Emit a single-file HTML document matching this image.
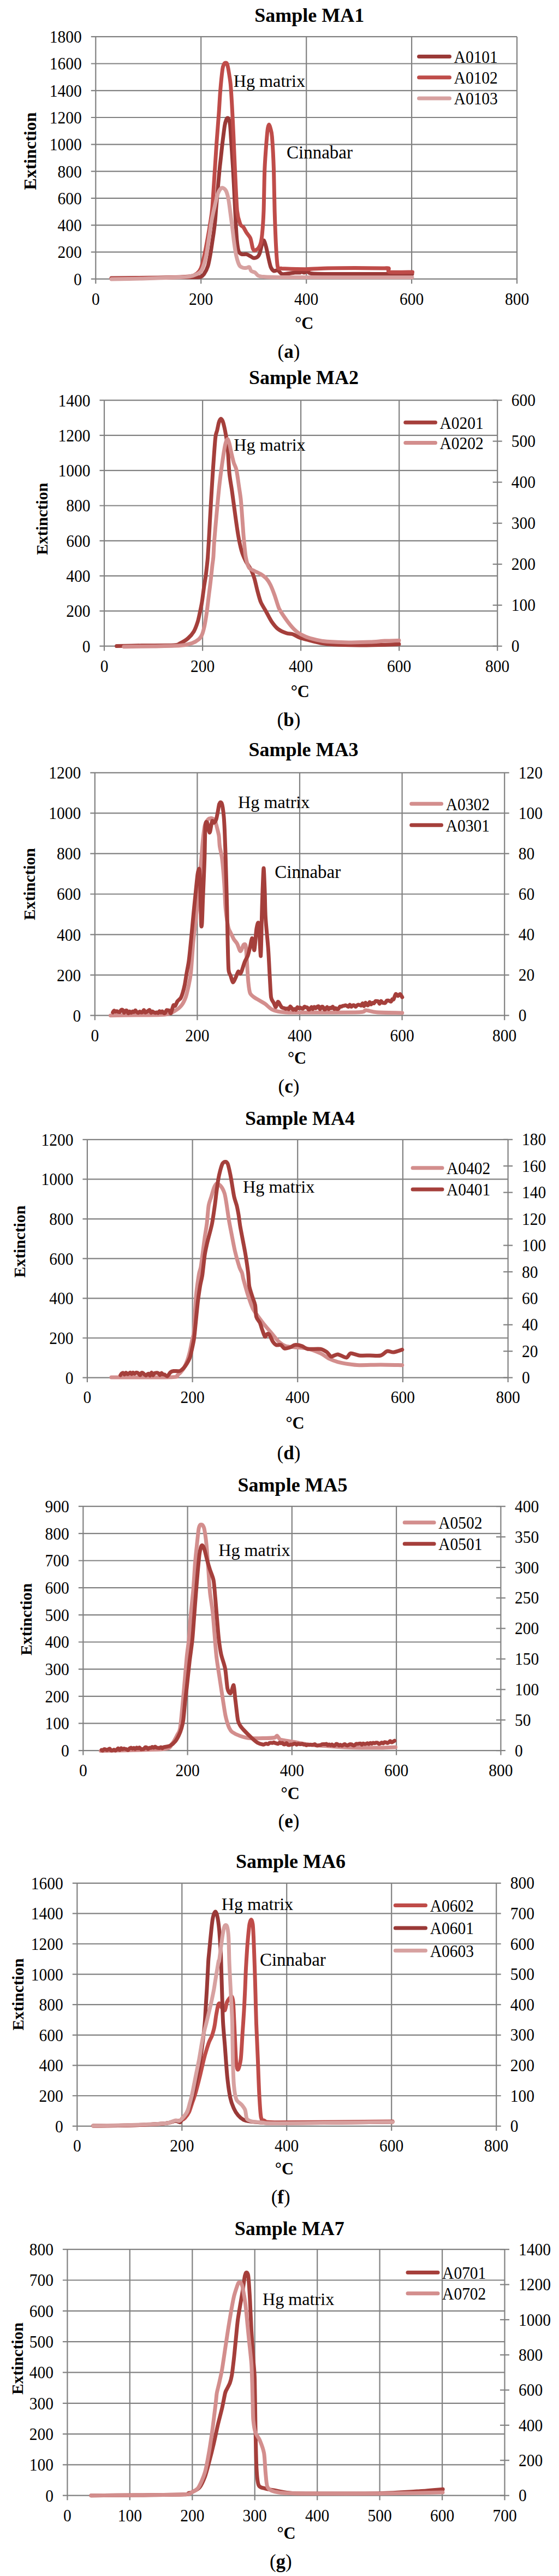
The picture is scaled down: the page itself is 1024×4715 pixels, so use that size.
<!DOCTYPE html>
<html><head><meta charset="utf-8"><style>
html,body{margin:0;padding:0;background:#fff;}
svg{display:block;}
text{font-family:"Liberation Serif",serif;fill:#000;}
</style></head><body>
<svg width="1024" height="4715" viewBox="0 0 1024 4715">
<rect width="1024" height="4715" fill="#fff"/>
<g stroke="#818181" stroke-width="2.2">
<line x1="166.8" y1="510.7" x2="947" y2="510.7"/>
<line x1="166.8" y1="461.4" x2="947" y2="461.4"/>
<line x1="166.8" y1="412.1" x2="947" y2="412.1"/>
<line x1="166.8" y1="362.9" x2="947" y2="362.9"/>
<line x1="166.8" y1="313.6" x2="947" y2="313.6"/>
<line x1="166.8" y1="264.3" x2="947" y2="264.3"/>
<line x1="166.8" y1="215" x2="947" y2="215"/>
<line x1="166.8" y1="165.8" x2="947" y2="165.8"/>
<line x1="166.8" y1="116.5" x2="947" y2="116.5"/>
<line x1="166.8" y1="67.2" x2="947" y2="67.2"/>
<line x1="175.3" y1="67.2" x2="175.3" y2="519.2"/>
<line x1="368.2" y1="67.2" x2="368.2" y2="519.2"/>
<line x1="561.2" y1="67.2" x2="561.2" y2="519.2"/>
<line x1="754.1" y1="67.2" x2="754.1" y2="519.2"/>
<line x1="947" y1="67.2" x2="947" y2="519.2"/>
<line x1="182.5" y1="1182.7" x2="911.2" y2="1182.7"/>
<line x1="182.5" y1="1118.4" x2="911.2" y2="1118.4"/>
<line x1="182.5" y1="1054.1" x2="911.2" y2="1054.1"/>
<line x1="182.5" y1="989.8" x2="911.2" y2="989.8"/>
<line x1="182.5" y1="925.5" x2="911.2" y2="925.5"/>
<line x1="182.5" y1="861.2" x2="911.2" y2="861.2"/>
<line x1="182.5" y1="796.9" x2="911.2" y2="796.9"/>
<line x1="182.5" y1="732.6" x2="911.2" y2="732.6"/>
<line x1="191" y1="732.6" x2="191" y2="1191.2"/>
<line x1="371.1" y1="732.6" x2="371.1" y2="1191.2"/>
<line x1="551.1" y1="732.6" x2="551.1" y2="1191.2"/>
<line x1="731.2" y1="732.6" x2="731.2" y2="1191.2"/>
<line x1="911.2" y1="732.6" x2="911.2" y2="1191.2"/>
<line x1="902.7" y1="1182.7" x2="919.7" y2="1182.7"/>
<line x1="902.7" y1="1107.7" x2="919.7" y2="1107.7"/>
<line x1="902.7" y1="1032.7" x2="919.7" y2="1032.7"/>
<line x1="902.7" y1="957.7" x2="919.7" y2="957.7"/>
<line x1="902.7" y1="882.6" x2="919.7" y2="882.6"/>
<line x1="902.7" y1="807.6" x2="919.7" y2="807.6"/>
<line x1="902.7" y1="732.6" x2="919.7" y2="732.6"/>
<line x1="165.3" y1="1858.7" x2="932.7" y2="1858.7"/>
<line x1="165.3" y1="1784.6" x2="932.7" y2="1784.6"/>
<line x1="165.3" y1="1710.6" x2="932.7" y2="1710.6"/>
<line x1="165.3" y1="1636.5" x2="932.7" y2="1636.5"/>
<line x1="165.3" y1="1562.4" x2="932.7" y2="1562.4"/>
<line x1="165.3" y1="1488.4" x2="932.7" y2="1488.4"/>
<line x1="165.3" y1="1414.3" x2="932.7" y2="1414.3"/>
<line x1="173.8" y1="1414.3" x2="173.8" y2="1867.2"/>
<line x1="361.4" y1="1414.3" x2="361.4" y2="1867.2"/>
<line x1="549" y1="1414.3" x2="549" y2="1867.2"/>
<line x1="736.6" y1="1414.3" x2="736.6" y2="1867.2"/>
<line x1="924.2" y1="1414.3" x2="924.2" y2="1867.2"/>
<line x1="151.4" y1="2521.6" x2="930.6" y2="2521.6"/>
<line x1="151.4" y1="2449" x2="930.6" y2="2449"/>
<line x1="151.4" y1="2376.3" x2="930.6" y2="2376.3"/>
<line x1="151.4" y1="2303.7" x2="930.6" y2="2303.7"/>
<line x1="151.4" y1="2231.1" x2="930.6" y2="2231.1"/>
<line x1="151.4" y1="2158.4" x2="930.6" y2="2158.4"/>
<line x1="151.4" y1="2085.8" x2="930.6" y2="2085.8"/>
<line x1="159.9" y1="2085.8" x2="159.9" y2="2530.1"/>
<line x1="352.6" y1="2085.8" x2="352.6" y2="2530.1"/>
<line x1="545.2" y1="2085.8" x2="545.2" y2="2530.1"/>
<line x1="737.9" y1="2085.8" x2="737.9" y2="2530.1"/>
<line x1="930.6" y1="2085.8" x2="930.6" y2="2530.1"/>
<line x1="922.1" y1="2521.6" x2="939.1" y2="2521.6"/>
<line x1="922.1" y1="2473.2" x2="939.1" y2="2473.2"/>
<line x1="922.1" y1="2424.8" x2="939.1" y2="2424.8"/>
<line x1="922.1" y1="2376.3" x2="939.1" y2="2376.3"/>
<line x1="922.1" y1="2327.9" x2="939.1" y2="2327.9"/>
<line x1="922.1" y1="2279.5" x2="939.1" y2="2279.5"/>
<line x1="922.1" y1="2231.1" x2="939.1" y2="2231.1"/>
<line x1="922.1" y1="2182.6" x2="939.1" y2="2182.6"/>
<line x1="922.1" y1="2134.2" x2="939.1" y2="2134.2"/>
<line x1="922.1" y1="2085.8" x2="939.1" y2="2085.8"/>
<line x1="143.8" y1="3204.1" x2="917.4" y2="3204.1"/>
<line x1="143.8" y1="3154.4" x2="917.4" y2="3154.4"/>
<line x1="143.8" y1="3104.8" x2="917.4" y2="3104.8"/>
<line x1="143.8" y1="3055.1" x2="917.4" y2="3055.1"/>
<line x1="143.8" y1="3005.5" x2="917.4" y2="3005.5"/>
<line x1="143.8" y1="2955.8" x2="917.4" y2="2955.8"/>
<line x1="143.8" y1="2906.2" x2="917.4" y2="2906.2"/>
<line x1="143.8" y1="2856.5" x2="917.4" y2="2856.5"/>
<line x1="143.8" y1="2806.9" x2="917.4" y2="2806.9"/>
<line x1="143.8" y1="2757.2" x2="917.4" y2="2757.2"/>
<line x1="152.3" y1="2757.2" x2="152.3" y2="3212.6"/>
<line x1="343.6" y1="2757.2" x2="343.6" y2="3212.6"/>
<line x1="534.8" y1="2757.2" x2="534.8" y2="3212.6"/>
<line x1="726.1" y1="2757.2" x2="726.1" y2="3212.6"/>
<line x1="917.4" y1="2757.2" x2="917.4" y2="3212.6"/>
<line x1="908.9" y1="3204.1" x2="925.9" y2="3204.1"/>
<line x1="908.9" y1="3148.2" x2="925.9" y2="3148.2"/>
<line x1="908.9" y1="3092.4" x2="925.9" y2="3092.4"/>
<line x1="908.9" y1="3036.5" x2="925.9" y2="3036.5"/>
<line x1="908.9" y1="2980.6" x2="925.9" y2="2980.6"/>
<line x1="908.9" y1="2924.8" x2="925.9" y2="2924.8"/>
<line x1="908.9" y1="2868.9" x2="925.9" y2="2868.9"/>
<line x1="908.9" y1="2813.1" x2="925.9" y2="2813.1"/>
<line x1="908.9" y1="2757.2" x2="925.9" y2="2757.2"/>
<line x1="132.8" y1="3891.6" x2="917.7" y2="3891.6"/>
<line x1="132.8" y1="3836" x2="917.7" y2="3836"/>
<line x1="132.8" y1="3780.4" x2="917.7" y2="3780.4"/>
<line x1="132.8" y1="3724.8" x2="917.7" y2="3724.8"/>
<line x1="132.8" y1="3669.2" x2="917.7" y2="3669.2"/>
<line x1="132.8" y1="3613.6" x2="917.7" y2="3613.6"/>
<line x1="132.8" y1="3558" x2="917.7" y2="3558"/>
<line x1="132.8" y1="3502.4" x2="917.7" y2="3502.4"/>
<line x1="132.8" y1="3446.8" x2="917.7" y2="3446.8"/>
<line x1="141.3" y1="3446.8" x2="141.3" y2="3900.1"/>
<line x1="333.3" y1="3446.8" x2="333.3" y2="3900.1"/>
<line x1="525.2" y1="3446.8" x2="525.2" y2="3900.1"/>
<line x1="717.2" y1="3446.8" x2="717.2" y2="3900.1"/>
<line x1="909.2" y1="3446.8" x2="909.2" y2="3900.1"/>
<line x1="114.9" y1="4567.7" x2="924.5" y2="4567.7"/>
<line x1="114.9" y1="4511.4" x2="924.5" y2="4511.4"/>
<line x1="114.9" y1="4455.1" x2="924.5" y2="4455.1"/>
<line x1="114.9" y1="4398.8" x2="924.5" y2="4398.8"/>
<line x1="114.9" y1="4342.4" x2="924.5" y2="4342.4"/>
<line x1="114.9" y1="4286.1" x2="924.5" y2="4286.1"/>
<line x1="114.9" y1="4229.8" x2="924.5" y2="4229.8"/>
<line x1="114.9" y1="4173.5" x2="924.5" y2="4173.5"/>
<line x1="114.9" y1="4117.2" x2="924.5" y2="4117.2"/>
<line x1="123.4" y1="4117.2" x2="123.4" y2="4576.2"/>
<line x1="237.8" y1="4117.2" x2="237.8" y2="4576.2"/>
<line x1="352.3" y1="4117.2" x2="352.3" y2="4576.2"/>
<line x1="466.7" y1="4117.2" x2="466.7" y2="4576.2"/>
<line x1="581.2" y1="4117.2" x2="581.2" y2="4576.2"/>
<line x1="695.6" y1="4117.2" x2="695.6" y2="4576.2"/>
<line x1="810.1" y1="4117.2" x2="810.1" y2="4576.2"/>
<line x1="924.5" y1="4117.2" x2="924.5" y2="4576.2"/>
<line x1="916" y1="4567.7" x2="933" y2="4567.7"/>
<line x1="916" y1="4503.3" x2="933" y2="4503.3"/>
<line x1="916" y1="4439" x2="933" y2="4439"/>
<line x1="916" y1="4374.6" x2="933" y2="4374.6"/>
<line x1="916" y1="4310.3" x2="933" y2="4310.3"/>
<line x1="916" y1="4245.9" x2="933" y2="4245.9"/>
<line x1="916" y1="4181.6" x2="933" y2="4181.6"/>
<line x1="916" y1="4117.2" x2="933" y2="4117.2"/>
</g>
<text transform="translate(149.8 521.6) scale(1 1.07)" font-size="29.5" text-anchor="end">0</text>
<text transform="translate(149.8 472.3) scale(1 1.07)" font-size="29.5" text-anchor="end">200</text>
<text transform="translate(149.8 423) scale(1 1.07)" font-size="29.5" text-anchor="end">400</text>
<text transform="translate(149.8 373.8) scale(1 1.07)" font-size="29.5" text-anchor="end">600</text>
<text transform="translate(149.8 324.5) scale(1 1.07)" font-size="29.5" text-anchor="end">800</text>
<text transform="translate(149.8 275.2) scale(1 1.07)" font-size="29.5" text-anchor="end">1000</text>
<text transform="translate(149.8 225.9) scale(1 1.07)" font-size="29.5" text-anchor="end">1200</text>
<text transform="translate(149.8 176.7) scale(1 1.07)" font-size="29.5" text-anchor="end">1400</text>
<text transform="translate(149.8 127.4) scale(1 1.07)" font-size="29.5" text-anchor="end">1600</text>
<text transform="translate(149.8 78.1) scale(1 1.07)" font-size="29.5" text-anchor="end">1800</text>
<text transform="translate(175.3 557.5) scale(1 1.07)" font-size="29.5" text-anchor="middle">0</text>
<text transform="translate(368.2 557.5) scale(1 1.07)" font-size="29.5" text-anchor="middle">200</text>
<text transform="translate(561.2 557.5) scale(1 1.07)" font-size="29.5" text-anchor="middle">400</text>
<text transform="translate(754.1 557.5) scale(1 1.07)" font-size="29.5" text-anchor="middle">600</text>
<text transform="translate(947 557.5) scale(1 1.07)" font-size="29.5" text-anchor="middle">800</text>
<text x="566.7" y="40.3" font-size="36" text-anchor="middle" font-weight="bold">Sample MA1</text>
<text transform="translate(65.5 276.6) rotate(-90)" font-size="32" font-weight="bold" text-anchor="middle">Extinction</text>
<text x="557.3" y="602.3" font-size="30.5" text-anchor="middle" font-weight="bold">°C</text>
<text x="529" y="654.5" font-size="35" text-anchor="middle">(<tspan font-weight="bold">a</tspan>)</text>
<text x="427.7" y="158.8" font-size="32.2" text-anchor="start">Hg matrix</text>
<text x="525" y="289.9" font-size="33" text-anchor="start">Cinnabar</text>
<path d="M204 509 C210.1 508.9 237.2 508.6 250 508.5 C262.8 508.4 288 508.1 300 508 C312 507.9 331.1 507.6 340 507.5 C348.9 507.4 362 507.8 366.5 507 C371 506.2 371.8 504.2 373.7 501.6 C375.6 499 379.3 492.1 380.8 487.3 C382.3 482.5 384.2 471.9 385.3 465.9 C386.4 459.9 388.1 448.1 388.9 442.6 C389.7 437.1 390.9 429.9 391.6 424.7 C392.3 419.5 393.6 409.3 394.2 403.3 C394.8 397.3 395.3 388.4 396 380 C396.7 371.6 398.7 349.3 399.5 340 C400.3 330.7 401.5 317.3 402.2 310 C402.9 302.7 404.3 291.5 405 285 C405.7 278.5 406.7 268.3 407.6 261 C408.5 253.7 410.7 235.6 411.6 230 C412.5 224.4 413.8 220.9 414.5 219 C415.2 217.1 416.3 216 417 216 C417.7 216 418.9 217.3 419.5 219 C420.1 220.7 420.9 223.4 421.5 229 C422.1 234.6 423 250.2 423.7 261 C424.4 271.8 426.1 296.8 426.9 310 C427.7 323.2 428.8 346.7 429.5 360 C430.2 373.3 431.4 399.3 432 410 C432.6 420.7 433.3 433.3 434 440 C434.7 446.7 436.1 456.9 437.3 460.3 C438.5 463.7 441.1 464.7 443 465.4 C444.9 466.1 449.5 464.9 451.6 465.4 C453.7 465.9 457 468 458.7 468.9 C460.4 469.8 462.8 472.1 464.5 472.3 C466.2 472.5 470.1 471.5 471.6 470.3 C473.1 469.1 474.8 466.3 475.9 463.1 C477 459.9 479.2 449.1 480.2 446 C481.2 442.9 482.6 439.4 483.6 440.2 C484.6 441 486.3 447.5 487.4 451.7 C488.5 455.9 490.6 466.7 491.7 471.7 C492.8 476.7 494.7 485.7 496 488.9 C497.3 492.1 500 495.2 501.7 496 C503.4 496.8 507.1 494 508.8 494.6 C510.5 495.2 513.1 499.3 514.6 500.3 C516.1 501.3 516.6 502 520 501.8 C523.4 501.6 536 499.4 540 499 C544 498.6 548.4 499.3 550 499 C551.6 498.7 551.1 497 552 497 C552.9 497 555.6 499 557 499 C558.4 499 560.9 496.8 562.6 497 C564.3 497.2 565 499.9 570 500.5 C575 501.1 582.7 501.4 600 501.5 C617.3 501.6 679.3 501.5 700 501.5 C720.7 501.5 747.7 501.5 755 501.5" fill="none" stroke="#9a3937" stroke-width="7" stroke-linejoin="round" stroke-linecap="round"/>
<path d="M204 510 C211.5 509.9 244.5 509.3 260 509 C275.5 508.7 308 508 320 507.5 C332 507 344.5 506.4 350 505.5 C355.5 504.6 358.6 502.4 361 500.5 C363.4 498.6 366.3 495.1 368 491 C369.7 486.9 372 477.6 373.7 470 C375.4 462.4 379.3 442.1 380.8 433.7 C382.3 425.3 384.2 414 385.3 406.8 C386.4 399.6 387.8 392.9 388.9 380 C390 367.1 392.5 325.9 393.6 310 C394.7 294.1 395.8 274.7 396.8 261 C397.8 247.3 400 219.8 400.9 207.3 C401.8 194.8 402.6 177.7 403.5 167 C404.4 156.3 406.7 133.5 407.6 126.8 C408.5 120.1 409.7 118.6 410.5 117 C411.3 115.4 412.8 115 413.5 115 C414.2 115 415.4 115.4 416 117 C416.6 118.6 417.5 121.9 418.3 126.8 C419.1 131.7 421.4 144.7 422.3 153.7 C423.2 162.7 424.3 181.5 425 194 C425.7 206.5 427 232.1 427.7 247.6 C428.4 263.1 429.5 291.6 430.4 310 C431.3 328.4 433.1 372.5 434.4 385.9 C435.7 399.3 438.6 406.2 440.1 410.2 C441.6 414.2 444.4 413.8 445.9 415.9 C447.4 418 449.9 423.2 451.6 425.9 C453.3 428.6 457.2 432.2 458.7 436 C460.2 439.8 462 451.5 463 454.5 C464 457.5 464.6 458.8 465.9 458.8 C467.2 458.8 471.5 456.2 473 454.5 C474.5 452.8 476.3 449.4 477.3 446 C478.3 442.6 479.4 436.8 480.2 428.8 C481 420.8 482.4 401.7 483 385.9 C483.6 370.1 484.1 326.7 484.8 310 C485.5 293.3 487.2 271 488 261 C488.8 251 489.8 239.4 490.5 235 C491.2 230.6 492.2 228 492.9 228 C493.6 228 494.8 232.1 495.5 235 C496.2 237.9 497.5 240 498.3 250 C499.1 260 500.9 291.9 501.5 310 C502.1 328.1 502.5 366.2 503.1 385.9 C503.7 405.6 505.2 443.7 506 457.4 C506.8 471.1 507.7 484.4 508.8 488.9 C509.9 493.4 513.1 490.8 514.6 491.2 C516.1 491.6 513.9 491.6 520 491.8 C526.1 492 549.3 492.8 560 492.7 C570.7 492.6 588 491.3 600 491 C612 490.7 636.7 490.5 650 490.5 C663.3 490.5 691.7 490.9 700 491 C708.3 491.1 710.1 490.1 712 491 C713.9 491.9 708.2 497 714 497.9 C719.8 498.8 750.1 497.9 755.6 497.9" fill="none" stroke="#bf4c49" stroke-width="7" stroke-linejoin="round" stroke-linecap="round"/>
<path d="M204 511 C211.5 510.9 244.5 510.4 260 510 C275.5 509.6 308.4 508.4 320 507.9 C331.6 507.4 341.3 506.9 346.8 506.1 C352.3 505.3 358.2 502.9 361.1 501.6 C364 500.3 366.6 498.7 368.3 496.3 C370 493.9 372.4 487.9 373.7 483.8 C375 479.7 377 471.4 378.1 465.9 C379.2 460.4 380.9 448.1 381.7 442.6 C382.5 437.1 383.7 429.5 384.4 424.7 C385.1 419.9 386.3 411.6 387.1 406.8 C387.9 402 389.9 392.7 390.7 388.9 C391.5 385.1 392.2 382.4 393.3 378 C394.4 373.6 397.1 360.2 398.6 355.8 C400.1 351.4 403 346.7 404.4 345.2 C405.8 343.7 407.9 343.8 409.2 344.4 C410.5 345 413.1 347.1 414.4 350 C415.7 352.9 417.8 361 418.7 365.8 C419.6 370.6 420.6 379.4 421.5 385.9 C422.4 392.4 424.3 406.9 425.3 414.5 C426.3 422.1 427.7 435.7 428.7 443 C429.7 450.3 431.7 463.2 433 468.9 C434.3 474.6 437 483.1 438.7 486 C440.4 488.9 444.2 489.7 445.9 490.3 C447.6 490.9 450.2 490.5 451.6 490.3 C453 490.1 455.6 488.1 456.7 488.9 C457.8 489.7 458.8 494.7 460.2 496 C461.6 497.3 465.6 497.8 467.3 498.9 C469 500 470.9 503.6 473 504.6 C475.1 505.6 476.7 506.2 483 506.6 C489.3 507 483.7 507.4 520 507.5 C556.3 507.6 723.7 507.7 755 507.7" fill="none" stroke="#d7a1a0" stroke-width="7" stroke-linejoin="round" stroke-linecap="round"/>
<line x1="767.5" y1="103.4" x2="823.5" y2="103.4" stroke="#9a3937" stroke-width="7" stroke-linecap="round"/>
<text transform="translate(831.6 114.7) scale(1 1.07)" font-size="29.5" text-anchor="start">A0101</text>
<line x1="767.5" y1="141.8" x2="823.5" y2="141.8" stroke="#bf4c49" stroke-width="7" stroke-linecap="round"/>
<text transform="translate(831.6 153.1) scale(1 1.07)" font-size="29.5" text-anchor="start">A0102</text>
<line x1="767.5" y1="180.1" x2="823.5" y2="180.1" stroke="#d7a1a0" stroke-width="7" stroke-linecap="round"/>
<text transform="translate(831.6 191.4) scale(1 1.07)" font-size="29.5" text-anchor="start">A0103</text>
<text transform="translate(165.5 1193.6) scale(1 1.07)" font-size="29.5" text-anchor="end">0</text>
<text transform="translate(165.5 1129.3) scale(1 1.07)" font-size="29.5" text-anchor="end">200</text>
<text transform="translate(165.5 1065) scale(1 1.07)" font-size="29.5" text-anchor="end">400</text>
<text transform="translate(165.5 1000.7) scale(1 1.07)" font-size="29.5" text-anchor="end">600</text>
<text transform="translate(165.5 936.4) scale(1 1.07)" font-size="29.5" text-anchor="end">800</text>
<text transform="translate(165.5 872.1) scale(1 1.07)" font-size="29.5" text-anchor="end">1000</text>
<text transform="translate(165.5 807.8) scale(1 1.07)" font-size="29.5" text-anchor="end">1200</text>
<text transform="translate(165.5 743.5) scale(1 1.07)" font-size="29.5" text-anchor="end">1400</text>
<text transform="translate(191 1229.5) scale(1 1.07)" font-size="29.5" text-anchor="middle">0</text>
<text transform="translate(371.1 1229.5) scale(1 1.07)" font-size="29.5" text-anchor="middle">200</text>
<text transform="translate(551.1 1229.5) scale(1 1.07)" font-size="29.5" text-anchor="middle">400</text>
<text transform="translate(731.2 1229.5) scale(1 1.07)" font-size="29.5" text-anchor="middle">600</text>
<text transform="translate(911.2 1229.5) scale(1 1.07)" font-size="29.5" text-anchor="middle">800</text>
<text transform="translate(936.7 1193.3) scale(1 1.07)" font-size="29.5" text-anchor="start">0</text>
<text transform="translate(936.7 1118.3) scale(1 1.07)" font-size="29.5" text-anchor="start">100</text>
<text transform="translate(936.7 1043.3) scale(1 1.07)" font-size="29.5" text-anchor="start">200</text>
<text transform="translate(936.7 968.3) scale(1 1.07)" font-size="29.5" text-anchor="start">300</text>
<text transform="translate(936.7 893.2) scale(1 1.07)" font-size="29.5" text-anchor="start">400</text>
<text transform="translate(936.7 818.2) scale(1 1.07)" font-size="29.5" text-anchor="start">500</text>
<text transform="translate(936.7 743.2) scale(1 1.07)" font-size="29.5" text-anchor="start">600</text>
<text x="556.5" y="703" font-size="36" text-anchor="middle" font-weight="bold">Sample MA2</text>
<text transform="translate(86.9 949.8) rotate(-90)" font-size="29.7" font-weight="bold" text-anchor="middle">Extinction</text>
<text x="549.8" y="1275.9" font-size="30.5" text-anchor="middle" font-weight="bold">°C</text>
<text x="529" y="1329.3" font-size="35" text-anchor="middle">(<tspan font-weight="bold">b</tspan>)</text>
<text x="428.3" y="825.2" font-size="32.2" text-anchor="start">Hg matrix</text>
<path d="M213.6 1182.6 C219.8 1182.5 246.1 1181.7 260 1181.5 C273.9 1181.3 308.7 1181.5 318 1181 C327.3 1180.5 326.5 1179.2 330 1177.5 C333.5 1175.8 341 1171.4 344.3 1168.5 C347.6 1165.6 352.6 1160.1 355 1156 C357.4 1151.9 360.6 1143 362.2 1138 C363.8 1133 365.6 1123.4 366.7 1118.4 C367.8 1113.4 369.3 1106.5 370.2 1100.5 C371.1 1094.5 372.9 1079.9 373.8 1073.7 C374.7 1067.5 376.2 1059.3 376.9 1054 C377.6 1048.7 378.7 1038.8 379.2 1034.3 C379.7 1029.8 380.2 1025.9 380.6 1020 C381 1014.1 381.8 1001.9 382.5 990 C383.2 978.1 384.8 947.5 385.8 931 C386.8 914.5 388.5 883.8 389.7 866.6 C390.9 849.4 393.4 812.5 394.5 802 C395.6 791.5 396.8 791.9 397.7 788 C398.6 784.1 400.1 775.9 401 773 C401.9 770.1 403.7 766.8 404.6 766.5 C405.5 766.2 407.1 768.9 408 771 C408.9 773.1 410.2 778.6 411 782 C411.8 785.4 413 791.6 413.8 796.4 C414.6 801.2 416.1 808.9 417 818.3 C417.9 827.7 419.1 855.9 420.2 866.6 C421.3 877.3 423.5 888.1 425 898.8 C426.5 909.5 430 936.2 431.5 947 C433 957.8 435 971.9 436.4 980 C437.8 988.1 440.5 1001.2 442.3 1007.5 C444.1 1013.8 447.8 1022.5 450.2 1027.2 C452.6 1031.9 457.9 1038.8 460 1043 C462.1 1047.2 464.4 1053.5 466 1058.7 C467.6 1063.9 470.2 1076.5 471.8 1082.3 C473.4 1088.1 475.6 1097 477.7 1102 C479.8 1107 485 1115 487.6 1119.7 C490.2 1124.4 494.5 1133.2 497.4 1137.4 C500.3 1141.6 505.5 1148.3 509.2 1151.2 C512.9 1154.1 521.3 1157.7 525 1159 C528.7 1160.3 533.7 1159.9 536.8 1161 C539.9 1162.1 545 1165.6 548.6 1167 C552.2 1168.4 558.5 1169.9 563.6 1171.2 C568.7 1172.5 580.9 1175.9 587.2 1177 C593.5 1178.1 601.4 1179.3 610.8 1179.8 C620.2 1180.3 645.4 1180.9 658 1181 C670.6 1181.1 695.6 1180.5 705.3 1180.2 C715 1179.9 727.5 1179.2 730.9 1179" fill="none" stroke="#a53f3b" stroke-width="7" stroke-linejoin="round" stroke-linecap="round"/>
<path d="M226.8 1183.7 C233.9 1183.6 266.2 1183.3 280 1183 C293.8 1182.7 320.5 1182.2 330 1181.5 C339.5 1180.8 347 1178.9 351.5 1177.4 C356 1175.9 361.5 1172.4 364 1170.3 C366.5 1168.2 368.8 1164.6 370.2 1161.3 C371.6 1158 373.6 1150.2 374.7 1145.2 C375.8 1140.2 377.3 1130.5 378.3 1123.8 C379.3 1117.1 381.1 1101.8 381.9 1095.1 C382.7 1088.4 383.9 1079.2 384.6 1073.7 C385.3 1068.2 386.3 1059.3 386.9 1054 C387.5 1048.7 388.5 1038.8 389 1034.3 C389.5 1029.8 390.3 1025.9 390.8 1020 C391.3 1014.1 391.6 1001.9 392.5 990 C393.4 978.1 396.4 945.3 397.7 931 C399 916.7 401 895.6 402.5 882.7 C404 869.8 407.6 843.8 409 834.4 C410.4 825 412 816.1 413 812 C414 807.9 415.7 803.5 416.7 803.5 C417.7 803.5 419.2 808.5 420.2 812 C421.2 815.5 422.9 825.3 424 830 C425.1 834.7 427.1 843.3 428.3 847.3 C429.5 851.3 431.8 854.1 433.1 860.1 C434.4 866.1 436.9 885 438 892.3 C439.1 899.6 440.3 906.3 441.2 914.9 C442.1 923.5 443.7 947.4 444.4 956.7 C445.1 966 445.7 976.6 446.5 985 C447.3 993.4 448.9 1012.2 450.2 1019.4 C451.5 1026.6 454 1035.6 456.1 1039 C458.2 1042.4 463.1 1043.4 466 1045 C468.9 1046.6 474.8 1049 477.7 1050.8 C480.6 1052.6 485.2 1056.1 487.6 1058.7 C490 1061.3 493.3 1066.3 495.4 1070.5 C497.5 1074.7 501.2 1084.4 503.3 1090.2 C505.4 1096 508.8 1108.6 511.2 1113.8 C513.6 1119 518.1 1125.3 521 1129.5 C523.9 1133.7 529.7 1141.6 532.8 1145.3 C535.9 1149 541 1154.3 544.6 1157 C548.2 1159.7 555.1 1163.4 559.7 1165.3 C564.3 1167.2 574.2 1170 579.4 1171.2 C584.6 1172.4 591.1 1173.7 599 1174.3 C606.9 1174.9 627.9 1175.8 638.4 1175.9 C648.9 1176 668.8 1175.5 677.7 1175.1 C686.6 1174.7 698.2 1173.5 705.3 1173.1 C712.4 1172.7 727.5 1172.4 730.9 1172.3" fill="none" stroke="#d38e8d" stroke-width="7" stroke-linejoin="round" stroke-linecap="round"/>
<line x1="742.8" y1="773.2" x2="797.5" y2="773.2" stroke="#a53f3b" stroke-width="7" stroke-linecap="round"/>
<text transform="translate(805.4 784.5) scale(1 1.07)" font-size="29.5" text-anchor="start">A0201</text>
<line x1="742.8" y1="810.6" x2="797.5" y2="810.6" stroke="#d38e8d" stroke-width="7" stroke-linecap="round"/>
<text transform="translate(805.4 821.9) scale(1 1.07)" font-size="29.5" text-anchor="start">A0202</text>
<text transform="translate(148.3 1869.6) scale(1 1.07)" font-size="29.5" text-anchor="end">0</text>
<text transform="translate(148.3 1795.5) scale(1 1.07)" font-size="29.5" text-anchor="end">200</text>
<text transform="translate(148.3 1721.5) scale(1 1.07)" font-size="29.5" text-anchor="end">400</text>
<text transform="translate(148.3 1647.4) scale(1 1.07)" font-size="29.5" text-anchor="end">600</text>
<text transform="translate(148.3 1573.3) scale(1 1.07)" font-size="29.5" text-anchor="end">800</text>
<text transform="translate(148.3 1499.3) scale(1 1.07)" font-size="29.5" text-anchor="end">1000</text>
<text transform="translate(148.3 1425.2) scale(1 1.07)" font-size="29.5" text-anchor="end">1200</text>
<text transform="translate(173.8 1905.5) scale(1 1.07)" font-size="29.5" text-anchor="middle">0</text>
<text transform="translate(361.4 1905.5) scale(1 1.07)" font-size="29.5" text-anchor="middle">200</text>
<text transform="translate(549 1905.5) scale(1 1.07)" font-size="29.5" text-anchor="middle">400</text>
<text transform="translate(736.6 1905.5) scale(1 1.07)" font-size="29.5" text-anchor="middle">600</text>
<text transform="translate(924.2 1905.5) scale(1 1.07)" font-size="29.5" text-anchor="middle">800</text>
<text transform="translate(949.7 1869.3) scale(1 1.07)" font-size="29.5" text-anchor="start">0</text>
<text transform="translate(949.7 1795.2) scale(1 1.07)" font-size="29.5" text-anchor="start">20</text>
<text transform="translate(949.7 1721.2) scale(1 1.07)" font-size="29.5" text-anchor="start">40</text>
<text transform="translate(949.7 1647.1) scale(1 1.07)" font-size="29.5" text-anchor="start">60</text>
<text transform="translate(949.7 1573) scale(1 1.07)" font-size="29.5" text-anchor="start">80</text>
<text transform="translate(949.7 1499) scale(1 1.07)" font-size="29.5" text-anchor="start">100</text>
<text transform="translate(949.7 1424.9) scale(1 1.07)" font-size="29.5" text-anchor="start">120</text>
<text x="556" y="1384" font-size="36" text-anchor="middle" font-weight="bold">Sample MA3</text>
<text transform="translate(64.4 1618.2) rotate(-90)" font-size="29.7" font-weight="bold" text-anchor="middle">Extinction</text>
<text x="544" y="1946.9" font-size="30.5" text-anchor="middle" font-weight="bold">°C</text>
<text x="529" y="2000" font-size="35" text-anchor="middle">(<tspan font-weight="bold">c</tspan>)</text>
<text x="436" y="1478.8" font-size="32.2" text-anchor="start">Hg matrix</text>
<text x="503.3" y="1607.2" font-size="33" text-anchor="start">Cinnabar</text>
<path d="M202.4 1858.7 C208.7 1858.6 236.6 1858.2 250 1858 C263.4 1857.8 293.2 1858.1 302.7 1857 C312.2 1855.9 317.5 1851.8 321.5 1849.5 C325.5 1847.2 330.2 1843.3 332.7 1840 C335.2 1836.7 338.5 1830 340.3 1825 C342.1 1820 344.6 1808.5 345.9 1802.5 C347.2 1796.5 348.6 1790 349.7 1780 C350.8 1770 352.6 1740.5 353.8 1727.2 C355 1713.9 357.6 1692 358.9 1680 C360.2 1668 362.3 1650.9 363.6 1637.4 C364.9 1623.9 367.2 1591.5 368.3 1578.4 C369.4 1565.3 370.6 1548.1 371.5 1539 C372.4 1529.9 374.1 1515.2 375.4 1510 C376.7 1504.8 379.5 1501.7 381 1500 C382.5 1498.3 385.5 1497.6 386.8 1497.5 C388.1 1497.4 390 1498.4 391 1499 C392 1499.6 393 1499.5 394 1502 C395 1504.5 397.4 1514.3 398.3 1518 C399.2 1521.7 400.4 1525.9 401 1530 C401.6 1534.1 401.7 1543.3 402.5 1549 C403.3 1554.7 405.8 1563.3 406.9 1572.5 C408 1581.7 410 1606 410.8 1617.7 C411.6 1629.4 412.3 1651 413 1660 C413.7 1669 415.2 1679.7 416 1685 C416.8 1690.3 418.1 1697 419 1700 C419.9 1703 421.3 1704.9 422.6 1707.5 C423.9 1710.1 426.9 1716.8 428.5 1719.4 C430.1 1722 432.8 1724.3 434.4 1727.2 C436 1730.1 438.8 1740.7 440.4 1741 C442 1741.3 445 1730.5 446.3 1729.2 C447.6 1727.9 449.4 1727.3 450.2 1731.2 C451 1735.1 451.6 1749.8 452.2 1758.7 C452.8 1767.6 454.1 1790.1 454.9 1798 C455.7 1805.9 456.6 1814 458.1 1817.7 C459.6 1821.4 463.5 1823.8 465.9 1825.6 C468.3 1827.4 473.2 1829.9 475.8 1831.5 C478.4 1833.1 482.7 1835.3 485.6 1837.4 C488.5 1839.5 494.3 1845.5 497.4 1847.3 C500.5 1849.1 505 1850.4 509.2 1851.2 C513.4 1852 522.1 1852.9 528.9 1853.2 C535.7 1853.5 542.8 1853.3 560 1853.2 C577.2 1853.1 643.3 1853.4 658 1852.8 C672.7 1852.2 665.7 1848.9 669.9 1848.9 C674.1 1848.9 680.6 1852.1 689.5 1852.8 C698.4 1853.5 730.5 1853.8 736.8 1854" fill="none" stroke="#d38e8d" stroke-width="7" stroke-linejoin="round" stroke-linecap="round"/>
<path d="M206.7 1853 C207 1852.6 208.3 1850 209 1849.8 C209.7 1849.7 210.9 1851.7 211.6 1851.8 C212.3 1851.9 213.5 1850.6 214.2 1850.7 C214.9 1850.7 216.1 1851.9 216.8 1852.2 C217.5 1852.4 218.7 1852.8 219.4 1852.3 C220.1 1851.8 221.3 1849.2 222 1848.7 C222.7 1848.2 223.9 1847.7 224.6 1848.4 C225.3 1849 226.5 1853.4 227.2 1853.7 C227.9 1853.9 229.1 1850.5 229.8 1850 C230.5 1849.4 231.7 1849.2 232.4 1849.8 C233.1 1850.4 234.3 1854.5 235 1854.7 C235.7 1854.9 236.9 1851.4 237.6 1851.3 C238.3 1851.2 239.5 1853.6 240.2 1853.7 C240.9 1853.7 242.1 1851.5 242.8 1851.3 C243.5 1851.2 244.7 1852.7 245.4 1852.4 C246.1 1852.1 247.3 1849.3 248 1849.3 C248.7 1849.3 249.9 1851.8 250.6 1852.4 C251.3 1853 252.5 1854 253.2 1853.9 C253.9 1853.8 255.1 1851.8 255.8 1851.6 C256.5 1851.5 257.7 1852.9 258.4 1853 C259.1 1853.2 260.3 1853.2 261 1852.6 C261.7 1852 262.9 1848.6 263.6 1848.7 C264.3 1848.8 265.5 1852.7 266.2 1853.2 C266.9 1853.6 268.1 1852.5 268.8 1852.1 C269.5 1851.7 270.7 1850.7 271.4 1850.2 C272.1 1849.8 273.3 1848 274 1848.5 C274.7 1849 275.9 1853.5 276.6 1853.8 C277.3 1854.2 278.5 1851.5 279.2 1851.3 C279.9 1851.2 281.1 1852.6 281.8 1852.9 C282.5 1853.2 283.7 1853.9 284.4 1853.9 C285.1 1853.9 286.3 1852.8 287 1852.9 C287.7 1852.9 288.9 1854.5 289.6 1854.2 C290.3 1853.9 291.5 1850.9 292.2 1850.8 C292.9 1850.7 294.1 1853.4 294.8 1853.4 C295.5 1853.5 296.7 1851 297.4 1851.1 C298.1 1851.3 299.3 1853.9 300 1854.3 C300.7 1854.7 301.9 1854.6 302.6 1853.9 C303.3 1853.2 304.5 1849.6 305.2 1848.9 C305.9 1848.3 307.1 1849.1 307.8 1849.2 C308.5 1849.3 309.7 1849 310.4 1849.7 C311.1 1850.4 312 1855.8 313 1854.5 C314 1853.2 316.6 1841.9 317.7 1840.1 C318.8 1838.3 320 1842 321 1841 C322 1840 323.9 1834.5 325.2 1832.6 C326.5 1830.7 329.6 1829 330.9 1827 C332.2 1825 333.6 1820.9 334.6 1817.6 C335.6 1814.3 337.4 1807.5 338.4 1802.5 C339.4 1797.5 341.1 1785.8 342.1 1780 C343.1 1774.2 344.8 1766.7 345.9 1758.7 C347 1750.7 348.9 1731.2 350 1720 C351.1 1708.8 353.2 1686.3 354.3 1674.5 C355.4 1662.7 357.6 1641.5 358.6 1631.6 C359.6 1621.7 361.2 1605.5 362 1600 C362.8 1594.5 364 1590 364.5 1590 C365 1590 365.6 1592 366 1600 C366.4 1608 367.2 1637.6 367.5 1650 C367.8 1662.4 368.3 1687.7 368.6 1693 C368.9 1698.3 369.6 1695.7 370 1690 C370.4 1684.3 371.1 1660.7 371.5 1650 C371.9 1639.3 372.8 1620.7 373.2 1610 C373.6 1599.3 374.4 1583.1 374.8 1570 C375.2 1556.9 375.6 1520.1 376.2 1511.5 C376.8 1502.9 378.3 1503.9 379.4 1505.6 C380.5 1507.3 382.9 1524.3 384.1 1524 C385.3 1523.7 387.4 1505.4 388.5 1503 C389.6 1500.6 391 1506.4 392 1506 C393 1505.6 395.1 1502.7 396 1500 C396.9 1497.3 398.3 1489.7 399 1486 C399.7 1482.3 400.9 1474.3 401.5 1472 C402.1 1469.7 403.2 1468.8 403.8 1468.5 C404.4 1468.2 405.4 1468.7 406 1470 C406.6 1471.3 407.5 1474.7 408 1478 C408.5 1481.3 409.5 1489.4 410 1495 C410.5 1500.6 411.1 1511.3 411.5 1520 C411.9 1528.7 412.4 1541.3 413 1560 C413.6 1578.7 415.3 1638.7 415.8 1660 C416.3 1681.3 416.6 1704.7 417 1720 C417.4 1735.3 418 1765.7 418.7 1774.5 C419.4 1783.3 421.5 1783.2 422.6 1786.3 C423.7 1789.4 425.4 1797.5 426.6 1798 C427.8 1798.5 430 1792.8 431.3 1790.2 C432.6 1787.6 435.2 1779.5 436.4 1778.4 C437.6 1777.3 439.5 1782.6 440.4 1782.3 C441.3 1782 442.1 1779.3 443.1 1776.4 C444.1 1773.5 446.7 1764.4 448.2 1760.7 C449.7 1757 452.8 1752.6 454.1 1748.9 C455.4 1745.2 457 1737.3 458.1 1733.1 C459.2 1728.9 461 1716.6 462 1717.4 C463 1718.2 464.8 1741.4 465.9 1739 C467 1736.6 468.8 1706.1 469.9 1699.7 C471 1693.3 473 1684.3 474 1691 C475 1697.7 477 1751.5 477.7 1750 C478.4 1748.5 479.1 1696 479.5 1680 C479.9 1664 480.5 1642.1 481 1630 C481.5 1617.9 482.5 1589 483 1589 C483.5 1589 484.5 1617.9 485 1630 C485.5 1642.1 485.6 1665.5 486.5 1680 C487.4 1694.5 490.5 1724.3 491.5 1739 C492.5 1753.7 493.6 1778.7 494.3 1790.2 C495 1801.7 495.7 1819.6 496.6 1825.6 C497.5 1831.6 500.2 1833.1 501.4 1835.5 C502.6 1837.9 504.3 1843.6 505.3 1843.3 C506.3 1843 508.1 1834 509.2 1833.5 C510.3 1833 512.3 1838 513.2 1839.4 C514.1 1840.8 515.3 1843 516 1843.7 C516.7 1844.5 517.9 1844.6 518.6 1844.8 C519.3 1845 520.5 1845.2 521.2 1845.4 C521.9 1845.7 523.1 1846.6 523.8 1846.6 C524.5 1846.7 525.7 1845.7 526.4 1845.7 C527.1 1845.8 528.3 1847.6 529 1847.2 C529.7 1846.7 530.9 1842.4 531.6 1842.1 C532.3 1841.8 533.5 1844.3 534.2 1845.1 C534.9 1845.9 536.1 1848 536.8 1848.3 C537.5 1848.5 538.7 1846.8 539.4 1846.8 C540.1 1846.8 541.3 1848.8 542 1848.4 C542.7 1847.9 543.9 1843.9 544.6 1843.6 C545.3 1843.2 546.5 1845.5 547.2 1845.6 C547.9 1845.7 549.1 1844.2 549.8 1844.2 C550.5 1844.3 551.7 1845.7 552.4 1846 C553.1 1846.2 554.3 1846.5 555 1846.1 C555.7 1845.6 556.9 1842.9 557.6 1842.6 C558.3 1842.3 559.5 1843.6 560.2 1843.8 C560.9 1844 562.1 1843.6 562.8 1844.1 C563.5 1844.6 564.7 1847.5 565.4 1847.9 C566.1 1848.2 567.3 1847.5 568 1846.9 C568.7 1846.3 569.9 1843.2 570.6 1843.2 C571.3 1843.2 572.5 1847 573.2 1847 C573.9 1846.9 575.1 1843.1 575.8 1842.9 C576.5 1842.8 577.7 1845.8 578.4 1845.7 C579.1 1845.7 580.3 1843.2 581 1842.7 C581.7 1842.2 582.9 1841.3 583.6 1841.9 C584.3 1842.5 585.5 1846.9 586.2 1847.1 C586.9 1847.2 588.1 1843.6 588.8 1843 C589.5 1842.5 590.7 1842.4 591.4 1843 C592.1 1843.6 593.3 1847 594 1847.5 C594.7 1848.1 595.9 1847.4 596.6 1846.8 C597.3 1846.2 598.5 1843.2 599.2 1843.3 C599.9 1843.3 601.1 1847 601.8 1847.2 C602.5 1847.4 603.7 1844.9 604.4 1844.6 C605.1 1844.4 606.3 1845.7 607 1845.4 C607.7 1845.1 608.9 1842.3 609.6 1842.5 C610.3 1842.7 611.5 1846.5 612.2 1846.8 C612.9 1847.2 614.1 1845.3 614.8 1845.3 C615.5 1845.3 616.7 1846.7 617.4 1846.9 C618.1 1847 619.3 1846.9 620 1846.4 C620.7 1845.8 621.9 1843 622.6 1842.5 C623.3 1842 624.5 1842.8 625.2 1842.6 C625.9 1842.5 627.1 1841.4 627.8 1841.2 C628.5 1840.9 629.7 1841 630.4 1840.8 C631.1 1840.7 632.3 1840 633 1840.1 C633.7 1840.1 634.9 1840.8 635.6 1841.2 C636.3 1841.6 637.5 1843.1 638.2 1842.7 C638.9 1842.4 640.1 1838.9 640.8 1838.9 C641.5 1838.9 642.7 1842.5 643.4 1842.7 C644.1 1842.9 645.3 1840.7 646 1840.4 C646.7 1840 647.9 1839.6 648.6 1839.9 C649.3 1840.2 650.5 1842.6 651.2 1842.7 C651.9 1842.8 653.1 1840.9 653.8 1840.4 C654.5 1839.9 655.7 1839.1 656.4 1839 C657.1 1838.9 658.3 1839.4 659 1839.7 C659.7 1839.9 660.9 1841.1 661.6 1840.6 C662.3 1840.2 663.5 1836.2 664.2 1836.4 C664.9 1836.5 666.1 1841.6 666.8 1841.5 C667.5 1841.4 668.7 1835.7 669.4 1835.4 C670.1 1835.1 671.3 1838.8 672 1839.4 C672.7 1839.9 673.9 1840.3 674.6 1839.6 C675.3 1838.9 676.5 1834.4 677.2 1834.2 C677.9 1834.1 679.1 1838.3 679.8 1838.5 C680.5 1838.6 681.7 1835.8 682.4 1835.5 C683.1 1835.3 684.3 1836.8 685 1836.4 C685.7 1836 686.9 1833.2 687.6 1832.6 C688.3 1832.1 689.5 1832.4 690.2 1832.5 C690.9 1832.5 692.1 1832.3 692.8 1832.9 C693.5 1833.5 694.7 1837.2 695.4 1837.2 C696.1 1837.1 697.3 1832.5 698 1832.2 C698.7 1832 699.9 1834.7 700.6 1835.2 C701.3 1835.7 702.5 1835.8 703.2 1835.8 C703.9 1835.9 705.1 1836.1 705.8 1835.5 C706.5 1835 707.7 1832.2 708.4 1831.6 C709.1 1831.1 710.3 1831.3 711 1831.3 C711.7 1831.4 712.9 1831.8 713.6 1832 C714.3 1832.2 715.5 1833.6 716.2 1833.2 C716.9 1832.7 718.2 1829.3 718.8 1828.8 C719.4 1828.3 720.2 1830.5 721 1829.2 C721.8 1827.9 723.9 1820.2 725 1819.4 C726.1 1818.6 728 1823 729 1823 C730 1823 731.8 1819.1 732.8 1819.4 C733.8 1819.7 736.3 1824.5 736.8 1825.3" fill="none" stroke="#a53f3b" stroke-width="7" stroke-linejoin="round" stroke-linecap="round"/>
<line x1="753.7" y1="1471.2" x2="808.5" y2="1471.2" stroke="#d38e8d" stroke-width="7" stroke-linecap="round"/>
<text transform="translate(816.7 1482.5) scale(1 1.07)" font-size="29.5" text-anchor="start">A0302</text>
<line x1="753.7" y1="1510.2" x2="808.5" y2="1510.2" stroke="#a53f3b" stroke-width="7" stroke-linecap="round"/>
<text transform="translate(816.7 1521.5) scale(1 1.07)" font-size="29.5" text-anchor="start">A0301</text>
<text transform="translate(134.4 2532.5) scale(1 1.07)" font-size="29.5" text-anchor="end">0</text>
<text transform="translate(134.4 2459.9) scale(1 1.07)" font-size="29.5" text-anchor="end">200</text>
<text transform="translate(134.4 2387.2) scale(1 1.07)" font-size="29.5" text-anchor="end">400</text>
<text transform="translate(134.4 2314.6) scale(1 1.07)" font-size="29.5" text-anchor="end">600</text>
<text transform="translate(134.4 2242) scale(1 1.07)" font-size="29.5" text-anchor="end">800</text>
<text transform="translate(134.4 2169.3) scale(1 1.07)" font-size="29.5" text-anchor="end">1000</text>
<text transform="translate(134.4 2096.7) scale(1 1.07)" font-size="29.5" text-anchor="end">1200</text>
<text transform="translate(159.9 2568.4) scale(1 1.07)" font-size="29.5" text-anchor="middle">0</text>
<text transform="translate(352.6 2568.4) scale(1 1.07)" font-size="29.5" text-anchor="middle">200</text>
<text transform="translate(545.2 2568.4) scale(1 1.07)" font-size="29.5" text-anchor="middle">400</text>
<text transform="translate(737.9 2568.4) scale(1 1.07)" font-size="29.5" text-anchor="middle">600</text>
<text transform="translate(930.6 2568.4) scale(1 1.07)" font-size="29.5" text-anchor="middle">800</text>
<text transform="translate(956.1 2532.2) scale(1 1.07)" font-size="29.5" text-anchor="start">0</text>
<text transform="translate(956.1 2483.8) scale(1 1.07)" font-size="29.5" text-anchor="start">20</text>
<text transform="translate(956.1 2435.4) scale(1 1.07)" font-size="29.5" text-anchor="start">40</text>
<text transform="translate(956.1 2386.9) scale(1 1.07)" font-size="29.5" text-anchor="start">60</text>
<text transform="translate(956.1 2338.5) scale(1 1.07)" font-size="29.5" text-anchor="start">80</text>
<text transform="translate(956.1 2290.1) scale(1 1.07)" font-size="29.5" text-anchor="start">100</text>
<text transform="translate(956.1 2241.7) scale(1 1.07)" font-size="29.5" text-anchor="start">120</text>
<text transform="translate(956.1 2193.2) scale(1 1.07)" font-size="29.5" text-anchor="start">140</text>
<text transform="translate(956.1 2144.8) scale(1 1.07)" font-size="29.5" text-anchor="start">160</text>
<text transform="translate(956.1 2096.4) scale(1 1.07)" font-size="29.5" text-anchor="start">180</text>
<text x="549.5" y="2058.6" font-size="36" text-anchor="middle" font-weight="bold">Sample MA4</text>
<text transform="translate(45.5 2272.5) rotate(-90)" font-size="29.7" font-weight="bold" text-anchor="middle">Extinction</text>
<text x="540.5" y="2614.8" font-size="30.5" text-anchor="middle" font-weight="bold">°C</text>
<text x="529" y="2671" font-size="35" text-anchor="middle">(<tspan font-weight="bold">d</tspan>)</text>
<text x="445" y="2182.9" font-size="32.2" text-anchor="start">Hg matrix</text>
<path d="M203.9 2521 C218.6 2521 297.8 2521.3 314 2520.8 C330.2 2520.3 322.5 2518.8 325.2 2517 C327.9 2515.2 332.3 2510.9 334.6 2507.6 C336.9 2504.3 340.3 2497.1 342.1 2492.6 C343.9 2488.1 346.4 2479.3 347.8 2473.8 C349.2 2468.3 351.3 2456.2 352.3 2451.3 C353.3 2446.4 354.4 2447.6 355.3 2437 C356.2 2426.4 358 2385.4 359.2 2371.5 C360.4 2357.6 363.2 2339.8 364.3 2332.9 C365.4 2326 366.8 2324.8 367.7 2320 C368.6 2315.2 369.9 2304.1 370.9 2296.7 C371.9 2289.3 374 2272.2 375.1 2264.5 C376.2 2256.8 378.1 2246.5 379 2238.8 C379.9 2231.1 381.1 2213 382.2 2206.6 C383.3 2200.2 385.7 2194.8 387 2190.5 C388.3 2186.2 390.6 2177.6 391.9 2174.4 C393.2 2171.2 395 2166.9 396.7 2166.5 C398.4 2166.1 402.8 2168.9 404.7 2171.2 C406.6 2173.5 409.9 2180.1 411.2 2184 C412.5 2187.9 413.3 2193.7 414.4 2200.1 C415.5 2206.5 417.9 2224.6 419.2 2232.3 C420.5 2240 422.6 2250.4 424.1 2258.1 C425.6 2265.8 428.6 2282.1 430.5 2290.3 C432.4 2298.5 436.8 2314 438.5 2319.3 C440.2 2324.6 442.4 2327 443.4 2330 C444.4 2333 444.4 2336 445.9 2341.5 C447.4 2347 452.2 2364.4 454.5 2371.5 C456.8 2378.6 460.8 2390.2 463.1 2395.1 C465.4 2400 468.8 2404 471.7 2408 C474.6 2412 481.2 2420.9 484.6 2425.2 C488 2429.5 494.1 2436.2 497.5 2440.2 C500.9 2444.2 506.9 2452.2 510.3 2455.3 C513.7 2458.4 519.2 2462.4 523.2 2463.8 C527.2 2465.2 535.2 2465.4 540.4 2466 C545.6 2466.6 555.7 2466.6 561.9 2468.1 C568.1 2469.6 581.7 2474.6 587.2 2477.1 C592.7 2479.6 598.8 2484.8 603 2486.9 C607.2 2489 614 2491.5 618.7 2492.8 C623.4 2494.1 633.1 2495.9 638.4 2496.7 C643.7 2497.5 650.2 2498.5 658.1 2498.7 C666 2498.9 686.9 2497.9 697.4 2497.9 C707.9 2497.9 731.5 2498.6 736.8 2498.7" fill="none" stroke="#d38e8d" stroke-width="7" stroke-linejoin="round" stroke-linecap="round"/>
<path d="M220.7 2517 C221 2516.6 222.3 2514.5 223 2513.9 C223.7 2513.4 224.9 2512.6 225.6 2512.9 C226.3 2513.2 227.5 2516 228.2 2515.9 C228.9 2515.8 230.1 2512.5 230.8 2512.4 C231.5 2512.3 232.7 2515 233.4 2515.2 C234.1 2515.4 235.3 2514.6 236 2514.2 C236.7 2513.8 237.9 2512.2 238.6 2512.3 C239.3 2512.5 240.5 2515.1 241.2 2515 C241.9 2515 243.1 2512.3 243.8 2512.2 C244.5 2512.2 245.7 2514.6 246.4 2514.6 C247.1 2514.6 248.3 2512.7 249 2512.4 C249.7 2512.1 250.9 2512.3 251.6 2512.5 C252.3 2512.8 253.5 2514 254.2 2514.5 C254.9 2515.1 256.1 2517.2 256.8 2517 C257.5 2516.7 258.7 2513.2 259.4 2512.7 C260.1 2512.3 261.3 2512.9 262 2513.3 C262.7 2513.7 263.9 2515.2 264.6 2515.8 C265.3 2516.3 266.5 2517.7 267.2 2517.7 C267.9 2517.6 269.1 2515.9 269.8 2515.5 C270.5 2515 271.7 2514.1 272.4 2514.4 C273.1 2514.7 274.3 2518.1 275 2517.9 C275.7 2517.6 276.9 2512.4 277.6 2512.3 C278.3 2512.2 279.5 2517 280.2 2517.2 C280.9 2517.3 282.1 2514.3 282.8 2513.7 C283.5 2513.2 284.7 2513 285.4 2512.9 C286.1 2512.7 287.3 2512.6 288 2512.7 C288.7 2512.8 289.9 2513.3 290.6 2513.9 C291.3 2514.4 292.5 2517 293.2 2516.9 C293.9 2516.8 295.1 2513.3 295.8 2513.1 C296.5 2512.9 297.7 2515.1 298.4 2515.5 C299.1 2515.9 299.9 2515.4 301 2515.8 C302.1 2516.3 305 2519.4 306.5 2518.9 C308 2518.4 310.5 2513.3 312 2512 C313.5 2510.7 315.4 2509.8 317.7 2509.5 C320 2509.2 326.5 2510.2 329 2509.5 C331.5 2508.8 334.8 2505.7 336.5 2503.9 C338.2 2502.1 340.6 2498.8 342.1 2496.3 C343.6 2493.8 346.5 2488.5 347.8 2485 C349.1 2481.5 350.5 2474.5 351.5 2470 C352.5 2465.5 354.4 2457 355.3 2451.3 C356.2 2445.6 357 2436.2 357.9 2427.3 C358.8 2418.4 361.1 2394.1 362.2 2384.4 C363.3 2374.7 365.4 2361.2 366.5 2354.3 C367.6 2347.4 369.7 2340.6 370.8 2332.9 C371.9 2325.2 374 2304.1 375.1 2296.7 C376.2 2289.3 378.1 2281.7 379 2277.4 C379.9 2273.1 380.9 2269.6 382.2 2264.5 C383.5 2259.4 387.1 2246.5 388.6 2238.8 C390.1 2231.1 392.4 2214.3 393.5 2206.6 C394.6 2198.9 395.8 2187.2 396.7 2180.8 C397.6 2174.4 399 2163.4 399.9 2158.3 C400.8 2153.2 402.5 2146 403.5 2142.2 C404.5 2138.4 406.6 2132 407.5 2130 C408.4 2128 409.7 2127.5 410.5 2127 C411.3 2126.5 413 2126.4 413.7 2126.5 C414.4 2126.6 415.3 2127.4 415.8 2128 C416.3 2128.6 416.9 2129.1 417.5 2131 C418.1 2132.9 419.5 2138.6 420.3 2142.2 C421.1 2145.8 422.4 2151.9 423.5 2158.3 C424.6 2164.7 427.5 2184.1 428.9 2190.5 C430.3 2196.9 432.6 2202.3 433.7 2206.6 C434.8 2210.9 436 2217.6 436.9 2222.7 C437.8 2227.8 439 2238.8 440.1 2245.2 C441.2 2251.6 443.7 2264.1 445 2271 C446.3 2277.9 448.5 2288.8 449.8 2296.7 C451.1 2304.6 453.7 2322.3 454.6 2330 C455.5 2337.7 455.6 2348.2 456.7 2354.3 C457.8 2360.4 461.7 2371.2 463.1 2375.8 C464.5 2380.4 466.5 2384.1 467.4 2388.7 C468.3 2393.3 468.4 2405.9 469.5 2410.2 C470.6 2414.5 474.6 2417.8 476 2420.9 C477.4 2424 479 2430.4 480.3 2433.8 C481.6 2437.2 484.2 2445.6 485.4 2446.7 C486.6 2447.8 488 2442.6 489 2442 C490 2441.4 491.8 2440.6 493.2 2442.4 C494.6 2444.2 497.9 2452.7 499.6 2455.3 C501.3 2457.9 504 2460.8 506 2461.7 C508 2462.6 512.6 2460.8 514.6 2461.7 C516.6 2462.6 518.8 2467.5 521.1 2468.1 C523.4 2468.7 529.2 2466.9 531.8 2466 C534.4 2465.1 537.5 2462 540.4 2461.7 C543.3 2461.4 550.2 2462.8 553.3 2463.8 C556.4 2464.8 559.1 2468.5 563.6 2469.2 C568.1 2469.9 582.5 2468.4 587.2 2469.2 C591.9 2470 596.4 2473.3 599 2475.1 C601.6 2476.9 604.3 2482.5 606.9 2483 C609.5 2483.5 615 2478.7 618.7 2479 C622.4 2479.3 631.4 2485.2 634.5 2484.9 C637.6 2484.6 639.2 2477.6 642.3 2477.1 C645.4 2476.6 653.4 2480.5 658.1 2481 C662.8 2481.5 672.5 2481 677.7 2481 C682.9 2481 693.2 2482.1 697.4 2481 C701.6 2479.9 706.1 2473.9 709.2 2473.1 C712.3 2472.3 717.3 2475.5 721 2475.1 C724.7 2474.7 734.7 2471 736.8 2470.4" fill="none" stroke="#a53f3b" stroke-width="7" stroke-linejoin="round" stroke-linecap="round"/>
<line x1="756.1" y1="2137.8" x2="810" y2="2137.8" stroke="#d38e8d" stroke-width="7" stroke-linecap="round"/>
<text transform="translate(817.9 2149.1) scale(1 1.07)" font-size="29.5" text-anchor="start">A0402</text>
<line x1="756.1" y1="2176.9" x2="810" y2="2176.9" stroke="#a53f3b" stroke-width="7" stroke-linecap="round"/>
<text transform="translate(817.9 2188.2) scale(1 1.07)" font-size="29.5" text-anchor="start">A0401</text>
<text transform="translate(126.8 3215) scale(1 1.07)" font-size="29.5" text-anchor="end">0</text>
<text transform="translate(126.8 3165.3) scale(1 1.07)" font-size="29.5" text-anchor="end">100</text>
<text transform="translate(126.8 3115.7) scale(1 1.07)" font-size="29.5" text-anchor="end">200</text>
<text transform="translate(126.8 3066) scale(1 1.07)" font-size="29.5" text-anchor="end">300</text>
<text transform="translate(126.8 3016.4) scale(1 1.07)" font-size="29.5" text-anchor="end">400</text>
<text transform="translate(126.8 2966.7) scale(1 1.07)" font-size="29.5" text-anchor="end">500</text>
<text transform="translate(126.8 2917.1) scale(1 1.07)" font-size="29.5" text-anchor="end">600</text>
<text transform="translate(126.8 2867.4) scale(1 1.07)" font-size="29.5" text-anchor="end">700</text>
<text transform="translate(126.8 2817.8) scale(1 1.07)" font-size="29.5" text-anchor="end">800</text>
<text transform="translate(126.8 2768.1) scale(1 1.07)" font-size="29.5" text-anchor="end">900</text>
<text transform="translate(152.3 3250.9) scale(1 1.07)" font-size="29.5" text-anchor="middle">0</text>
<text transform="translate(343.6 3250.9) scale(1 1.07)" font-size="29.5" text-anchor="middle">200</text>
<text transform="translate(534.8 3250.9) scale(1 1.07)" font-size="29.5" text-anchor="middle">400</text>
<text transform="translate(726.1 3250.9) scale(1 1.07)" font-size="29.5" text-anchor="middle">600</text>
<text transform="translate(917.4 3250.9) scale(1 1.07)" font-size="29.5" text-anchor="middle">800</text>
<text transform="translate(942.9 3214.7) scale(1 1.07)" font-size="29.5" text-anchor="start">0</text>
<text transform="translate(942.9 3158.8) scale(1 1.07)" font-size="29.5" text-anchor="start">50</text>
<text transform="translate(942.9 3103) scale(1 1.07)" font-size="29.5" text-anchor="start">100</text>
<text transform="translate(942.9 3047.1) scale(1 1.07)" font-size="29.5" text-anchor="start">150</text>
<text transform="translate(942.9 2991.2) scale(1 1.07)" font-size="29.5" text-anchor="start">200</text>
<text transform="translate(942.9 2935.4) scale(1 1.07)" font-size="29.5" text-anchor="start">250</text>
<text transform="translate(942.9 2879.5) scale(1 1.07)" font-size="29.5" text-anchor="start">300</text>
<text transform="translate(942.9 2823.7) scale(1 1.07)" font-size="29.5" text-anchor="start">350</text>
<text transform="translate(942.9 2767.8) scale(1 1.07)" font-size="29.5" text-anchor="start">400</text>
<text x="536.1" y="2729.5" font-size="36" text-anchor="middle" font-weight="bold">Sample MA5</text>
<text transform="translate(58.4 2964) rotate(-90)" font-size="29.7" font-weight="bold" text-anchor="middle">Extinction</text>
<text x="531.6" y="3293" font-size="30.5" text-anchor="middle" font-weight="bold">°C</text>
<text x="529" y="3345.3" font-size="35" text-anchor="middle">(<tspan font-weight="bold">e</tspan>)</text>
<text x="400.2" y="2848.1" font-size="32.2" text-anchor="start">Hg matrix</text>
<path d="M184.5 3204.7 C199.7 3204.3 281.4 3203.2 298.8 3201.5 C316.2 3199.8 311.5 3195.3 314.9 3191.9 C318.3 3188.5 322.5 3179.8 324.5 3175.8 C326.5 3171.8 328.5 3172.2 330.1 3161.7 C331.7 3151.2 334.9 3114.5 336.5 3097.3 C338.1 3080.1 340.8 3045.9 342.1 3032.9 C343.4 3019.9 345.1 3010.1 346.1 3000 C347.1 2989.9 348.2 2969.3 349.3 2957.1 C350.4 2944.9 353 2921.7 354.1 2908.8 C355.2 2895.9 356.5 2871.2 357.4 2860.5 C358.3 2849.8 359.7 2836.5 360.6 2828.3 C361.5 2820.1 363.1 2804.1 363.8 2799.3 C364.5 2794.5 365.4 2793.2 366 2792 C366.6 2790.8 367.9 2790.5 368.6 2790.5 C369.3 2790.5 370.7 2790.8 371.5 2792 C372.3 2793.2 373.5 2794.5 374.4 2799.3 C375.3 2804.1 377.4 2818.9 378.3 2828.3 C379.2 2837.7 380.6 2858.5 381.5 2870.1 C382.4 2881.7 383.6 2904.5 384.7 2915.2 C385.8 2925.9 388.6 2941.3 389.6 2950.6 C390.6 2959.9 391.6 2974 392.5 2985 C393.4 2996 395.2 3020.8 396.6 3032.9 C398 3045 401.3 3064.4 403 3075.9 C404.7 3087.4 408.2 3110.3 409.5 3118.8 C410.8 3127.3 412.1 3135.5 413 3140 C413.9 3144.5 415.2 3149.1 416.1 3152.2 C417 3155.3 418.8 3160.6 420 3163 C421.2 3165.4 422.4 3168.1 425 3170 C427.6 3171.9 435.1 3175.7 439.4 3177.2 C443.7 3178.7 451 3180.9 457.2 3181.5 C463.4 3182.1 479.8 3181.6 485.9 3181.5 C492 3181.4 500.1 3181.1 503 3180.5 C505.9 3179.9 506.2 3176.9 507.3 3177 C508.4 3177.1 510 3180.5 511 3181.5 C512 3182.5 511.2 3183.5 514.5 3184.4 C517.8 3185.3 528.8 3186.8 536 3188 C543.2 3189.2 559.7 3192.4 568.2 3193.5 C576.7 3194.6 590.7 3195.3 600 3196 C609.3 3196.7 625.1 3198.1 638 3198.5 C650.9 3198.9 685.6 3199.1 697.1 3199 C708.6 3198.9 720.9 3198.1 724.6 3198" fill="none" stroke="#d38e8d" stroke-width="7" stroke-linejoin="round" stroke-linecap="round"/>
<path d="M186.1 3203.1 C186.4 3203.2 187.4 3204.4 188 3204.2 C188.6 3204 189.9 3201.9 190.6 3201.6 C191.3 3201.3 192.5 3201.7 193.2 3202 C193.9 3202.2 195.1 3203.3 195.8 3203.3 C196.5 3203.3 197.7 3202.2 198.4 3201.9 C199.1 3201.6 200.3 3200.5 201 3200.8 C201.7 3201.1 202.9 3203.6 203.6 3204 C204.3 3204.4 205.5 3204.1 206.2 3203.9 C206.9 3203.7 208.1 3202.3 208.8 3202.4 C209.5 3202.4 210.7 3204.2 211.4 3204.2 C212.1 3204.1 213.3 3202.7 214 3202.2 C214.7 3201.7 215.9 3200 216.6 3200.1 C217.3 3200.3 218.5 3203.3 219.2 3203.3 C219.9 3203.2 221.1 3200 221.8 3199.8 C222.5 3199.5 223.7 3201.6 224.4 3201.7 C225.1 3201.8 226.3 3200.5 227 3200.4 C227.7 3200.3 228.9 3201 229.6 3201.3 C230.3 3201.5 231.5 3201.7 232.2 3202 C232.9 3202.2 234.1 3203.4 234.8 3203.1 C235.5 3202.9 236.7 3200.8 237.4 3200.2 C238.1 3199.7 239.3 3198.8 240 3198.9 C240.7 3199 241.9 3200.9 242.6 3200.9 C243.3 3201 244.5 3199.2 245.2 3199.3 C245.9 3199.4 247.1 3201.5 247.8 3201.4 C248.5 3201.4 249.7 3198.9 250.4 3198.8 C251.1 3198.6 252.3 3200.4 253 3200.4 C253.7 3200.3 254.9 3198.3 255.6 3198.5 C256.3 3198.7 257.5 3201.2 258.2 3201.6 C258.9 3202 260.1 3201.5 260.8 3201.5 C261.5 3201.4 262.7 3201.7 263.4 3201.3 C264.1 3200.8 265.3 3198.4 266 3198.1 C266.7 3197.7 267.9 3198.1 268.6 3198.5 C269.3 3198.9 270.5 3201.2 271.2 3201.3 C271.9 3201.4 273.1 3199.3 273.8 3199.1 C274.5 3198.8 275.7 3199.5 276.4 3199.3 C277.1 3199.1 278.3 3197.5 279 3197.4 C279.7 3197.4 280.9 3199 281.6 3199 C282.3 3198.9 283.5 3196.9 284.2 3196.9 C284.9 3196.9 286.1 3198.6 286.8 3198.9 C287.5 3199.2 288.7 3199.1 289.4 3199.2 C290.1 3199.3 291.3 3199.7 292 3199.6 C292.7 3199.4 293.9 3198 294.6 3198 C295.3 3198.1 296.6 3199.9 297.2 3200 C297.8 3200 296.9 3198.9 298.8 3198.3 C300.7 3197.7 308.7 3196.6 311.7 3195.1 C314.7 3193.6 319.2 3189.6 321.3 3187 C323.4 3184.4 326.3 3179 327.8 3175.8 C329.3 3172.6 331.5 3166.6 332.6 3162.9 C333.7 3159.2 334.9 3154.4 335.8 3148 C336.7 3141.6 338.2 3122.9 339 3115 C339.8 3107.1 341 3098.6 342.1 3088.8 C343.2 3079 345.8 3053.3 347.2 3041.5 C348.6 3029.7 351.4 3011.3 352.5 3000 C353.6 2988.7 354.9 2968.4 355.8 2957.1 C356.7 2945.8 358.1 2925.9 359 2915.2 C359.9 2904.5 361.3 2886 362.2 2876.6 C363.1 2867.2 364.6 2850.3 365.4 2844.4 C366.2 2838.5 367.4 2834.1 368 2832 C368.6 2829.9 369.6 2828.6 370.2 2828.5 C370.8 2828.4 371.8 2829.7 372.5 2831 C373.2 2832.3 374.1 2834.5 375.1 2838 C376.1 2841.5 378.6 2852.6 379.9 2857.3 C381.2 2862 383.2 2868.7 384.7 2873.4 C386.2 2878.1 389.9 2885.8 391.2 2892.7 C392.5 2899.6 393.5 2915.5 394.4 2924.9 C395.3 2934.3 396.7 2953.5 397.6 2963.5 C398.5 2973.5 399.8 2991.3 400.8 3000 C401.8 3008.7 403.6 3021.3 405.2 3028.6 C406.8 3035.9 411 3046.1 412.5 3054.4 C414 3062.7 415.5 3084.9 416.8 3090.9 C418.1 3096.9 420.9 3100.4 422.4 3099.5 C423.9 3098.6 426.9 3083.1 428 3084.5 C429.1 3085.9 430.4 3105.5 431 3110.2 C431.6 3114.9 431.6 3114.9 432.2 3120 C432.8 3125.1 434.8 3143.5 435.8 3148.6 C436.8 3153.7 438.6 3156.1 440 3158.5 C441.4 3160.9 443.7 3163.5 446.5 3166.5 C449.3 3169.5 457.5 3177.7 460.8 3180.8 C464.1 3183.9 468.7 3188.1 471.6 3189.8 C474.5 3191.5 480.4 3193 482.3 3193.3 C484.2 3193.6 485.2 3192.1 486 3191.8 C486.8 3191.6 487.9 3191.6 488.6 3191.7 C489.3 3191.7 490.5 3192.5 491.2 3192.3 C491.9 3192.1 493.1 3190.6 493.8 3190.3 C494.5 3189.9 495.7 3189.9 496.4 3189.9 C497.1 3189.9 498.3 3190.4 499 3190.3 C499.7 3190.2 500.9 3189.2 501.6 3189.2 C502.3 3189.2 503.5 3190.2 504.2 3190.5 C504.9 3190.7 506.1 3190.9 506.8 3191.1 C507.5 3191.2 508.7 3192 509.4 3191.8 C510.1 3191.6 511.3 3189.9 512 3189.8 C512.7 3189.6 513.9 3190.6 514.6 3190.7 C515.3 3190.7 516.5 3189.9 517.2 3190.2 C517.9 3190.5 519.1 3192.4 519.8 3192.7 C520.5 3193 521.7 3192.8 522.4 3192.5 C523.1 3192.2 524.3 3190.4 525 3190.6 C525.7 3190.8 526.9 3193.3 527.6 3193.8 C528.3 3194.2 529.5 3194 530.2 3193.9 C530.9 3193.8 532.1 3193.2 532.8 3193.1 C533.5 3193 534.7 3193.3 535.4 3193.1 C536.1 3193 537.3 3192.1 538 3191.9 C538.7 3191.6 539.9 3191.4 540.6 3191.6 C541.3 3191.8 542.5 3193.3 543.2 3193.4 C543.9 3193.4 545.1 3192 545.8 3191.9 C546.5 3191.7 547.7 3192.2 548.4 3192.3 C549.1 3192.4 550.3 3192.5 551 3192.5 C551.7 3192.4 552.9 3191.7 553.6 3191.8 C554.3 3191.9 555.5 3193 556.2 3193.2 C556.9 3193.4 558.1 3192.9 558.8 3193.1 C559.5 3193.3 560.7 3194.4 561.4 3194.4 C562.1 3194.4 563.3 3193.4 564 3193.4 C564.7 3193.3 565.9 3193.8 566.6 3193.7 C567.3 3193.7 568.5 3193.3 569.2 3193.3 C569.9 3193.3 571.1 3193.8 571.8 3193.8 C572.5 3193.8 573.7 3193.3 574.4 3193.2 C575.1 3193 576.3 3192.4 577 3192.6 C577.7 3192.8 578.9 3194.6 579.6 3194.9 C580.3 3195.2 581.5 3195 582.2 3194.9 C582.9 3194.8 584.1 3194.5 584.8 3194.4 C585.5 3194.3 586.7 3194.2 587.4 3194 C588.1 3193.7 589.3 3192.9 590 3192.7 C590.7 3192.5 591.9 3192.4 592.6 3192.4 C593.3 3192.4 594.5 3192.7 595.2 3192.6 C595.9 3192.6 597.1 3191.7 597.8 3191.9 C598.5 3192.1 599.7 3194 600.4 3194.2 C601.1 3194.3 602.3 3193 603 3193 C603.7 3193.1 604.9 3194.5 605.6 3194.5 C606.3 3194.5 607.5 3193 608.2 3193.1 C608.9 3193.1 610.1 3194.8 610.8 3195 C611.5 3195.2 612.7 3195.1 613.4 3194.7 C614.1 3194.3 615.3 3192.3 616 3192 C616.7 3191.7 617.9 3192.3 618.6 3192.7 C619.3 3193.1 620.5 3194.9 621.2 3195 C621.9 3195.1 623.1 3193.6 623.8 3193.6 C624.5 3193.7 625.7 3195.3 626.4 3195.3 C627.1 3195.3 628.3 3193.9 629 3193.5 C629.7 3193.1 630.9 3192.4 631.6 3192.5 C632.3 3192.6 633.5 3194 634.2 3194.3 C634.9 3194.7 636.1 3195 636.8 3194.9 C637.5 3194.7 638.7 3193.5 639.4 3193.2 C640.1 3192.8 641.3 3192.4 642 3192.4 C642.7 3192.4 643.9 3192.7 644.6 3193 C645.3 3193.4 646.5 3194.8 647.2 3194.9 C647.9 3195 649.1 3194.5 649.8 3194.1 C650.5 3193.7 651.7 3192.1 652.4 3191.9 C653.1 3191.6 654.3 3192.2 655 3192.1 C655.7 3192.1 656.9 3191.6 657.6 3191.5 C658.3 3191.4 659.5 3190.9 660.2 3191.2 C660.9 3191.4 662.1 3193.4 662.8 3193.4 C663.5 3193.4 664.7 3191.4 665.4 3191.2 C666.1 3191.1 667.3 3192.2 668 3192.3 C668.7 3192.4 669.9 3192 670.6 3191.8 C671.3 3191.6 672.5 3190.7 673.2 3190.8 C673.9 3190.9 675.1 3192.4 675.8 3192.3 C676.5 3192.3 677.7 3190.3 678.4 3190.3 C679.1 3190.2 680.3 3191.8 681 3191.7 C681.7 3191.7 682.9 3190 683.6 3189.9 C684.3 3189.7 685.5 3190.7 686.2 3190.7 C686.9 3190.7 688.1 3189.9 688.8 3189.8 C689.5 3189.7 690.7 3189.6 691.4 3189.8 C692.1 3190.1 693.3 3191.7 694 3191.9 C694.7 3192.1 695.9 3191.5 696.6 3191.2 C697.3 3190.9 698.5 3189.4 699.2 3189.4 C699.9 3189.4 701.1 3191.2 701.8 3191.1 C702.5 3191 703.7 3189 704.4 3188.8 C705.1 3188.5 706.3 3189 707 3189.2 C707.7 3189.4 708.9 3190.4 709.6 3190.4 C710.3 3190.4 711.5 3189.6 712.2 3189.1 C712.9 3188.7 714.1 3186.8 714.8 3186.8 C715.5 3186.8 716.3 3189.2 717.4 3189.1 C718.5 3189 722 3186.6 722.7 3186.2" fill="none" stroke="#a53f3b" stroke-width="7" stroke-linejoin="round" stroke-linecap="round"/>
<line x1="741.2" y1="2786.8" x2="795.1" y2="2786.8" stroke="#d38e8d" stroke-width="7" stroke-linecap="round"/>
<text transform="translate(803.2 2798.1) scale(1 1.07)" font-size="29.5" text-anchor="start">A0502</text>
<line x1="741.2" y1="2825.7" x2="795.1" y2="2825.7" stroke="#a53f3b" stroke-width="7" stroke-linecap="round"/>
<text transform="translate(803.2 2837) scale(1 1.07)" font-size="29.5" text-anchor="start">A0501</text>
<text transform="translate(115.8 3902.5) scale(1 1.07)" font-size="29.5" text-anchor="end">0</text>
<text transform="translate(115.8 3846.9) scale(1 1.07)" font-size="29.5" text-anchor="end">200</text>
<text transform="translate(115.8 3791.3) scale(1 1.07)" font-size="29.5" text-anchor="end">400</text>
<text transform="translate(115.8 3735.7) scale(1 1.07)" font-size="29.5" text-anchor="end">600</text>
<text transform="translate(115.8 3680.1) scale(1 1.07)" font-size="29.5" text-anchor="end">800</text>
<text transform="translate(115.8 3624.5) scale(1 1.07)" font-size="29.5" text-anchor="end">1000</text>
<text transform="translate(115.8 3568.9) scale(1 1.07)" font-size="29.5" text-anchor="end">1200</text>
<text transform="translate(115.8 3513.3) scale(1 1.07)" font-size="29.5" text-anchor="end">1400</text>
<text transform="translate(115.8 3457.7) scale(1 1.07)" font-size="29.5" text-anchor="end">1600</text>
<text transform="translate(141.3 3938.4) scale(1 1.07)" font-size="29.5" text-anchor="middle">0</text>
<text transform="translate(333.3 3938.4) scale(1 1.07)" font-size="29.5" text-anchor="middle">200</text>
<text transform="translate(525.2 3938.4) scale(1 1.07)" font-size="29.5" text-anchor="middle">400</text>
<text transform="translate(717.2 3938.4) scale(1 1.07)" font-size="29.5" text-anchor="middle">600</text>
<text transform="translate(909.2 3938.4) scale(1 1.07)" font-size="29.5" text-anchor="middle">800</text>
<text transform="translate(934.7 3902.2) scale(1 1.07)" font-size="29.5" text-anchor="start">0</text>
<text transform="translate(934.7 3846.6) scale(1 1.07)" font-size="29.5" text-anchor="start">100</text>
<text transform="translate(934.7 3791) scale(1 1.07)" font-size="29.5" text-anchor="start">200</text>
<text transform="translate(934.7 3735.4) scale(1 1.07)" font-size="29.5" text-anchor="start">300</text>
<text transform="translate(934.7 3679.8) scale(1 1.07)" font-size="29.5" text-anchor="start">400</text>
<text transform="translate(934.7 3624.2) scale(1 1.07)" font-size="29.5" text-anchor="start">500</text>
<text transform="translate(934.7 3568.6) scale(1 1.07)" font-size="29.5" text-anchor="start">600</text>
<text transform="translate(934.7 3513) scale(1 1.07)" font-size="29.5" text-anchor="start">700</text>
<text transform="translate(934.7 3457.4) scale(1 1.07)" font-size="29.5" text-anchor="start">800</text>
<text x="532.5" y="3419.4" font-size="36" text-anchor="middle" font-weight="bold">Sample MA6</text>
<text transform="translate(42.9 3650.5) rotate(-90)" font-size="29.7" font-weight="bold" text-anchor="middle">Extinction</text>
<text x="520.9" y="3980.2" font-size="30.5" text-anchor="middle" font-weight="bold">°C</text>
<text x="514.2" y="4032.5" font-size="35" text-anchor="middle">(<tspan font-weight="bold">f</tspan>)</text>
<text x="405.8" y="3496.3" font-size="32.2" text-anchor="start">Hg matrix</text>
<text x="475.9" y="3597.9" font-size="33" text-anchor="start">Cinnabar</text>
<path d="M170.7 3891 C179.9 3890.9 222.3 3890.6 240 3890 C257.7 3889.4 292.3 3887.6 303.1 3886.5 C313.9 3885.4 317.1 3882.7 321 3882 C324.9 3881.3 329.7 3881.7 332 3881 C334.3 3880.3 336.6 3879.1 338.5 3877 C340.4 3874.9 344.7 3869.1 346.5 3865.4 C348.3 3861.7 350.5 3853.6 352 3849.3 C353.5 3845 355.6 3839.6 357.5 3833.2 C359.4 3826.8 363.9 3809.6 366 3801 C368.1 3792.4 371.9 3775.2 373.5 3768.8 C375.1 3762.4 376.7 3756.9 378 3752.7 C379.3 3748.5 381.7 3740.9 383 3737.5 C384.3 3734.1 386.8 3730 388 3726.9 C389.2 3723.8 391 3717 391.8 3714 C392.6 3711 393.1 3707.8 393.7 3704.4 C394.3 3701 395.2 3692.8 396 3688.3 C396.8 3683.8 398.7 3673.3 399.5 3670.5 C400.3 3667.7 401.4 3666.5 402.2 3667 C403 3667.5 404.5 3672.3 405.8 3674 C407.1 3675.7 410.7 3680.6 412 3679.4 C413.3 3678.2 414.5 3668 415.6 3665.1 C416.7 3662.2 418.8 3659.4 420 3658 C421.2 3656.6 423.6 3653.5 424.6 3654.4 C425.6 3655.3 426.6 3659 427.2 3665.1 C427.8 3671.2 428.4 3688.3 429 3700 C429.6 3711.7 430.9 3742.2 431.4 3752.7 C431.9 3763.2 432.4 3773.7 433 3778.4 C433.6 3783.1 435.1 3789.4 436.2 3788.1 C437.3 3786.8 440 3777.8 441.1 3768.8 C442.2 3759.8 443.5 3732.3 444.3 3720.5 C445.1 3708.7 446.4 3690.7 447 3680 C447.6 3669.3 448.5 3650.3 449 3640 C449.5 3629.7 450 3612.3 450.5 3603 C451 3593.7 452 3577.6 452.5 3570 C453 3562.4 453.8 3552.3 454.4 3545.9 C455 3539.5 456.2 3526.3 457 3522 C457.8 3517.7 459.4 3513.5 460.2 3513.5 C461 3513.5 462.4 3517.7 463 3522 C463.6 3526.3 464 3535.5 464.5 3545.9 C465 3556.3 466 3586.1 466.5 3600 C467 3613.9 467.6 3636.1 468 3650 C468.4 3663.9 468.9 3688.2 469.5 3704 C470.1 3719.8 471.6 3751.6 472.3 3768.8 C473 3786 474.1 3819 474.9 3833.2 C475.7 3847.4 476.8 3868.6 478.1 3875 C479.4 3881.4 480.2 3880.2 484.5 3881.5 C488.8 3882.8 478.7 3884.5 510 3884.7 C541.3 3884.9 691.1 3883.2 719 3883" fill="none" stroke="#bf4c49" stroke-width="7" stroke-linejoin="round" stroke-linecap="round"/>
<path d="M170.7 3891 C179.9 3890.9 222.3 3890.6 240 3890 C257.7 3889.4 292.3 3887.6 303.1 3886.5 C313.9 3885.4 317.4 3882.2 321 3882 C324.6 3881.8 328.4 3885.2 330 3884.7 C331.6 3884.2 331.7 3880.3 333.2 3878.2 C334.7 3876.1 338.9 3872.9 341.3 3868.6 C343.7 3864.3 348.5 3853.7 350.9 3846 C353.3 3838.3 357.1 3819.6 359 3810.6 C360.9 3801.6 363.9 3787 365.4 3778.4 C366.9 3769.8 368.9 3756.1 370.2 3746.2 C371.5 3736.3 374.2 3712.8 375 3704 C375.8 3695.2 376 3688.5 376.5 3680 C377 3671.5 378.3 3652 379 3640 C379.7 3628 381.1 3598.7 381.6 3590 C382.1 3581.3 382.3 3582.3 383 3574.5 C383.7 3566.7 386.3 3540.2 387.2 3531.6 C388.1 3523 389.1 3514.3 390 3510 C390.9 3505.7 393.2 3499.4 394.3 3499 C395.4 3498.6 397 3502.7 398 3507 C399 3511.3 400.6 3522.6 401.5 3531.6 C402.4 3540.6 403.9 3566.7 404.4 3574.5 C404.9 3582.3 404.7 3581.3 405 3590 C405.3 3598.7 406 3625.3 406.5 3640 C407 3654.7 407.8 3685.8 408.5 3700 C409.2 3714.2 411.1 3732.7 412.1 3746.2 C413.1 3759.7 415 3788.5 416.3 3801 C417.6 3813.5 420.2 3831.9 421.8 3839.6 C423.4 3847.3 426.3 3854.6 428.2 3858.9 C430.1 3863.2 433.8 3869 436.2 3871.8 C438.6 3874.6 442.9 3878.4 445.9 3879.9 C448.9 3881.4 454.9 3882.5 458.8 3883.1 C462.7 3883.7 468.1 3884.3 474.9 3884.7 C481.7 3885.1 477.5 3886.4 510 3886.3 C542.5 3886.2 691.1 3884.3 719 3884" fill="none" stroke="#9a3937" stroke-width="7" stroke-linejoin="round" stroke-linecap="round"/>
<path d="M170.7 3891 C179.9 3890.8 222.3 3890.1 240 3889.5 C257.7 3888.9 292.3 3887.6 303.1 3886.5 C313.9 3885.4 317.7 3881.7 321 3881.1 C324.3 3880.5 326.4 3882.4 328 3882 C329.6 3881.6 331.2 3880.4 333.2 3878.2 C335.2 3876 341 3869.3 342.9 3865.4 C344.8 3861.5 346.5 3853.6 347.7 3849.3 C348.9 3845 350.5 3839.6 351.9 3833.2 C353.3 3826.8 356.6 3809.6 358.3 3801 C360 3792.4 363.2 3777.4 364.8 3768.8 C366.4 3760.2 369 3743 370.2 3736.6 C371.4 3730.2 372.5 3724.8 373.5 3720.5 C374.5 3716.2 376.5 3708.7 377.6 3704.4 C378.7 3700.1 380.5 3692.6 381.5 3688.3 C382.5 3684 384.4 3676.5 385.4 3672.2 C386.4 3667.9 388 3660.4 388.9 3656.1 C389.8 3651.8 391.4 3644 392.1 3640 C392.8 3636 393.2 3632.7 394.3 3626 C395.4 3619.3 399.4 3595 400.4 3590 C401.4 3585 400.6 3594.7 401.5 3588.8 C402.4 3582.9 406 3554 407.2 3545.9 C408.4 3537.8 409.7 3531 410.5 3528 C411.3 3525 412.7 3523.5 413.5 3523.5 C414.3 3523.5 415.8 3525 416.5 3528 C417.2 3531 418.2 3537.6 418.7 3545.9 C419.2 3554.2 419.6 3578.5 420 3590 C420.4 3601.5 421.4 3620 422 3632 C422.6 3644 424 3670.4 424.5 3680 C425 3689.6 425.2 3692.2 425.5 3704 C425.8 3715.8 426.1 3753.7 426.5 3768.8 C426.9 3783.9 427.6 3807.1 428.5 3817 C429.4 3826.9 431.1 3838.1 433 3842.8 C434.9 3847.5 440.6 3849.9 442.7 3852.5 C444.8 3855.1 447.8 3858.8 449.1 3862.2 C450.4 3865.6 450.6 3875.4 452.3 3878.2 C454 3881 458.6 3882.2 462 3883.1 C465.4 3884 471.7 3884.2 478.1 3884.7 C484.5 3885.2 477.9 3886.6 510 3886.5 C542.1 3886.4 691.1 3884.3 719 3884" fill="none" stroke="#d7a1a0" stroke-width="7" stroke-linejoin="round" stroke-linecap="round"/>
<line x1="724.3" y1="3487.5" x2="779.5" y2="3487.5" stroke="#bf4c49" stroke-width="7" stroke-linecap="round"/>
<text transform="translate(787.7 3498.8) scale(1 1.07)" font-size="29.5" text-anchor="start">A0602</text>
<line x1="724.3" y1="3529.1" x2="779.5" y2="3529.1" stroke="#9a3937" stroke-width="7" stroke-linecap="round"/>
<text transform="translate(787.7 3540.4) scale(1 1.07)" font-size="29.5" text-anchor="start">A0601</text>
<line x1="724.3" y1="3570.2" x2="779.5" y2="3570.2" stroke="#d7a1a0" stroke-width="7" stroke-linecap="round"/>
<text transform="translate(787.7 3581.5) scale(1 1.07)" font-size="29.5" text-anchor="start">A0603</text>
<text transform="translate(97.9 4578.6) scale(1 1.07)" font-size="29.5" text-anchor="end">0</text>
<text transform="translate(97.9 4522.3) scale(1 1.07)" font-size="29.5" text-anchor="end">100</text>
<text transform="translate(97.9 4466) scale(1 1.07)" font-size="29.5" text-anchor="end">200</text>
<text transform="translate(97.9 4409.7) scale(1 1.07)" font-size="29.5" text-anchor="end">300</text>
<text transform="translate(97.9 4353.3) scale(1 1.07)" font-size="29.5" text-anchor="end">400</text>
<text transform="translate(97.9 4297) scale(1 1.07)" font-size="29.5" text-anchor="end">500</text>
<text transform="translate(97.9 4240.7) scale(1 1.07)" font-size="29.5" text-anchor="end">600</text>
<text transform="translate(97.9 4184.4) scale(1 1.07)" font-size="29.5" text-anchor="end">700</text>
<text transform="translate(97.9 4128.1) scale(1 1.07)" font-size="29.5" text-anchor="end">800</text>
<text transform="translate(123.4 4614.5) scale(1 1.07)" font-size="29.5" text-anchor="middle">0</text>
<text transform="translate(237.8 4614.5) scale(1 1.07)" font-size="29.5" text-anchor="middle">100</text>
<text transform="translate(352.3 4614.5) scale(1 1.07)" font-size="29.5" text-anchor="middle">200</text>
<text transform="translate(466.7 4614.5) scale(1 1.07)" font-size="29.5" text-anchor="middle">300</text>
<text transform="translate(581.2 4614.5) scale(1 1.07)" font-size="29.5" text-anchor="middle">400</text>
<text transform="translate(695.6 4614.5) scale(1 1.07)" font-size="29.5" text-anchor="middle">500</text>
<text transform="translate(810.1 4614.5) scale(1 1.07)" font-size="29.5" text-anchor="middle">600</text>
<text transform="translate(924.5 4614.5) scale(1 1.07)" font-size="29.5" text-anchor="middle">700</text>
<text transform="translate(950 4578.3) scale(1 1.07)" font-size="29.5" text-anchor="start">0</text>
<text transform="translate(950 4513.9) scale(1 1.07)" font-size="29.5" text-anchor="start">200</text>
<text transform="translate(950 4449.6) scale(1 1.07)" font-size="29.5" text-anchor="start">400</text>
<text transform="translate(950 4385.2) scale(1 1.07)" font-size="29.5" text-anchor="start">600</text>
<text transform="translate(950 4320.9) scale(1 1.07)" font-size="29.5" text-anchor="start">800</text>
<text transform="translate(950 4256.5) scale(1 1.07)" font-size="29.5" text-anchor="start">1000</text>
<text transform="translate(950 4192.2) scale(1 1.07)" font-size="29.5" text-anchor="start">1200</text>
<text transform="translate(950 4127.8) scale(1 1.07)" font-size="29.5" text-anchor="start">1400</text>
<text x="530.3" y="4091" font-size="36" text-anchor="middle" font-weight="bold">Sample MA7</text>
<text transform="translate(42.3 4317) rotate(-90)" font-size="29.7" font-weight="bold" text-anchor="middle">Extinction</text>
<text x="524.5" y="4647" font-size="30.5" text-anchor="middle" font-weight="bold">°C</text>
<text x="514.3" y="4699.6" font-size="35" text-anchor="middle">(<tspan font-weight="bold">g</tspan>)</text>
<text x="480.9" y="4219.2" font-size="32.2" text-anchor="start">Hg matrix</text>
<path d="M166.9 4567.7 C178 4567.6 227.2 4567.3 250 4567 C272.8 4566.7 325.1 4566.3 337.8 4565.8 C350.5 4565.3 343.1 4564.1 345 4563.5 C346.9 4562.9 349.1 4562.9 351.8 4561.5 C354.5 4560.1 362.5 4556.6 365.6 4552.8 C368.7 4549 373 4539.5 375.4 4533.2 C377.8 4526.9 381.2 4513.5 383.3 4505.6 C385.4 4497.7 389.1 4483 391.2 4474.1 C393.3 4465.2 396.9 4447.6 399 4438.7 C401.1 4429.8 405.1 4415 406.9 4407.2 C408.7 4399.4 411.3 4384.6 412.5 4380 C413.7 4375.4 414.7 4374.9 415.8 4372.5 C416.9 4370.1 419.9 4365.1 421.1 4361.8 C422.3 4358.5 423.7 4353.2 424.7 4347.5 C425.7 4341.8 427.3 4327.5 428.3 4318.9 C429.3 4310.3 430.9 4292.6 431.9 4283.1 C432.9 4273.6 434.4 4255.9 435.5 4247.3 C436.6 4238.7 438.9 4225.8 440.1 4218.7 C441.3 4211.6 443.3 4200.4 444.4 4193.7 C445.5 4187 447.3 4173 448 4168.6 C448.7 4164.2 449.5 4162.2 450 4161 C450.5 4159.8 451.2 4159.5 451.6 4159.5 C452 4159.5 452.8 4159.8 453.3 4161 C453.8 4162.2 454.5 4161.9 455.1 4168.6 C455.7 4175.3 457.3 4198.7 458 4211.6 C458.7 4224.5 459.7 4250.9 460.5 4265.2 C461.3 4279.5 463.3 4307 464.1 4318.9 C464.9 4330.8 466.1 4338.7 466.6 4354.7 C467.1 4370.7 467.5 4417 467.9 4438.7 C468.3 4460.4 469.1 4502.7 469.9 4517.4 C470.7 4532.1 471.7 4543.9 473.8 4548.9 C475.9 4553.9 481.4 4553.5 485.6 4554.8 C489.8 4556.1 499.5 4557.6 505.3 4558.7 C511.1 4559.8 521.6 4562 528.9 4562.7 C536.2 4563.4 537.2 4563.8 560 4563.9 C582.8 4564 671.7 4564.1 700 4563.5 C728.3 4562.9 757.8 4560.5 772.6 4559.5 C787.4 4558.5 806.1 4556.6 811.2 4556.2" fill="none" stroke="#a53f3b" stroke-width="7" stroke-linejoin="round" stroke-linecap="round"/>
<path d="M166.9 4567.7 C178 4567.6 227.2 4567.3 250 4567 C272.8 4566.7 324.2 4566.5 337.8 4565.8 C351.4 4565.1 348.4 4563.2 351.8 4561.5 C355.2 4559.8 360.5 4557.6 363.6 4552.8 C366.7 4548 372.8 4534.2 375.4 4525.3 C378 4516.4 381.5 4496.4 383.3 4485.9 C385.1 4475.4 387.6 4458.1 389.2 4446.6 C390.8 4435.1 394 4408.3 395.1 4399.4 C396.2 4390.5 396.3 4385 397.2 4380 C398.1 4375 400.2 4367.6 401.5 4361.8 C402.8 4356 405.4 4344.9 406.8 4336.8 C408.2 4328.7 410.8 4310.5 412.2 4301 C413.6 4291.5 416.2 4274.3 417.6 4265.2 C419 4256.1 421.5 4241.1 422.9 4233 C424.3 4224.9 426.9 4210.6 428.3 4204.4 C429.7 4198.2 432.6 4189.9 433.7 4186.5 C434.8 4183.1 435.8 4180.2 436.5 4179 C437.2 4177.8 438.3 4177.5 439 4177.5 C439.7 4177.5 440.8 4177.8 441.5 4179 C442.2 4180.2 443.3 4181.2 444.4 4186.5 C445.5 4191.8 448.6 4209.6 449.8 4218.7 C451 4227.8 452.4 4245 453.3 4254.5 C454.2 4264 455.9 4280.8 456.9 4290.3 C457.9 4299.8 459.8 4316.4 460.5 4326 C461.2 4335.6 461.7 4352.1 462 4362 C462.3 4371.9 462.7 4390.9 463 4400 C463.3 4409.1 463.3 4423 464 4430 C464.7 4437 466.3 4447.7 467.9 4452.5 C469.5 4457.3 473.7 4461.3 475.8 4466.3 C477.9 4471.3 482.2 4482 483.6 4489.9 C485 4497.8 485.6 4517.2 486.4 4525.3 C487.2 4533.4 488 4546.4 489.5 4550.9 C491 4555.4 493.7 4557.1 497.4 4558.7 C501.1 4560.3 508.8 4562 517.1 4562.7 C525.4 4563.4 535.6 4563.7 560 4563.9 C584.4 4564.1 666.5 4564.3 700 4564 C733.5 4563.7 796.2 4562.3 811 4562" fill="none" stroke="#d38e8d" stroke-width="7" stroke-linejoin="round" stroke-linecap="round"/>
<line x1="747" y1="4159.6" x2="802" y2="4159.6" stroke="#a53f3b" stroke-width="7" stroke-linecap="round"/>
<text transform="translate(810.1 4170.9) scale(1 1.07)" font-size="29.5" text-anchor="start">A0701</text>
<line x1="747" y1="4197.8" x2="802" y2="4197.8" stroke="#d38e8d" stroke-width="7" stroke-linecap="round"/>
<text transform="translate(810.1 4209.1) scale(1 1.07)" font-size="29.5" text-anchor="start">A0702</text>
</svg>
</body></html>
